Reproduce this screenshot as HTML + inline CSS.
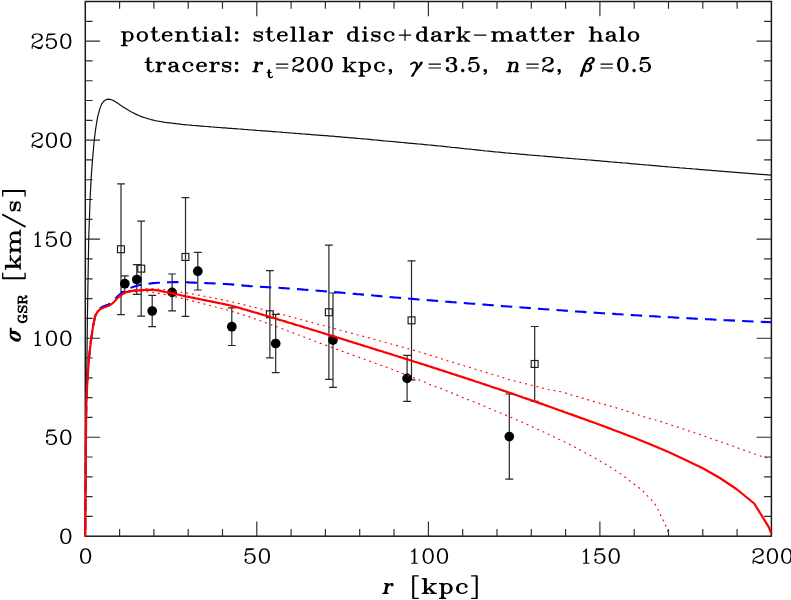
<!DOCTYPE html>
<html><head><meta charset="utf-8"><title>sigma_GSR</title>
<style>
html,body{margin:0;padding:0;background:#fff;}
body{width:791px;height:600px;overflow:hidden;font-family:"Liberation Serif",serif;}
svg{display:block;}
.hb{fill:none;stroke:#000;stroke-linecap:round;stroke-linejoin:round;}
</style></head><body>
<svg width="791" height="600" viewBox="0 0 791 600">
<rect width="791" height="600" fill="#fff"/>
<g stroke="#1a1a1a" fill="none"><rect x="85.3" y="1.5" width="686.1" height="534.7" stroke-width="1.5"/><path d="M119.6 536.2v-7.3M119.6 1.5v7.3M153.9 536.2v-7.3M153.9 1.5v7.3M188.2 536.2v-7.3M188.2 1.5v7.3M222.5 536.2v-7.3M222.5 1.5v7.3M256.8 536.2v-14.8M256.8 1.5v14.8M291.1 536.2v-7.3M291.1 1.5v7.3M325.4 536.2v-7.3M325.4 1.5v7.3M359.7 536.2v-7.3M359.7 1.5v7.3M394.0 536.2v-7.3M394.0 1.5v7.3M428.4 536.2v-14.8M428.4 1.5v14.8M462.7 536.2v-7.3M462.7 1.5v7.3M497.0 536.2v-7.3M497.0 1.5v7.3M531.3 536.2v-7.3M531.3 1.5v7.3M565.6 536.2v-7.3M565.6 1.5v7.3M599.9 536.2v-14.8M599.9 1.5v14.8M634.2 536.2v-7.3M634.2 1.5v7.3M668.5 536.2v-7.3M668.5 1.5v7.3M702.8 536.2v-7.3M702.8 1.5v7.3M737.1 536.2v-7.3M737.1 1.5v7.3M85.3 516.4h7.3M771.4 516.4h-7.3M85.3 496.6h7.3M771.4 496.6h-7.3M85.3 476.8h7.3M771.4 476.8h-7.3M85.3 457.0h7.3M771.4 457.0h-7.3M85.3 437.2h14.8M771.4 437.2h-14.8M85.3 417.4h7.3M771.4 417.4h-7.3M85.3 397.6h7.3M771.4 397.6h-7.3M85.3 377.8h7.3M771.4 377.8h-7.3M85.3 358.0h7.3M771.4 358.0h-7.3M85.3 338.2h14.8M771.4 338.2h-14.8M85.3 318.4h7.3M771.4 318.4h-7.3M85.3 298.6h7.3M771.4 298.6h-7.3M85.3 278.8h7.3M771.4 278.8h-7.3M85.3 258.9h7.3M771.4 258.9h-7.3M85.3 239.1h14.8M771.4 239.1h-14.8M85.3 219.3h7.3M771.4 219.3h-7.3M85.3 199.5h7.3M771.4 199.5h-7.3M85.3 179.7h7.3M771.4 179.7h-7.3M85.3 159.9h7.3M771.4 159.9h-7.3M85.3 140.1h14.8M771.4 140.1h-14.8M85.3 120.3h7.3M771.4 120.3h-7.3M85.3 100.5h7.3M771.4 100.5h-7.3M85.3 80.7h7.3M771.4 80.7h-7.3M85.3 60.9h7.3M771.4 60.9h-7.3M85.3 41.1h14.8M771.4 41.1h-14.8M85.3 21.3h7.3M771.4 21.3h-7.3" stroke-width="1.15" stroke="#2a2a2a"/></g>
<path d="M121.0 183.9V314.6 M117.1 183.9h7.8 M117.1 314.6h7.8 M141.2 221.1V316.2 M137.3 221.1h7.8 M137.3 316.2h7.8 M185.5 197.6V316.4 M181.6 197.6h7.8 M181.6 316.4h7.8 M269.9 270.6V357.8 M266.0 270.6h7.8 M266.0 357.8h7.8 M328.9 245.1V379.4 M325.0 245.1h7.8 M325.0 379.4h7.8 M411.5 260.9V379.8 M407.6 260.9h7.8 M407.6 379.8h7.8 M534.7 326.5V401.3 M530.8 326.5h7.8 M530.8 401.3h7.8 M124.8 275.8V291.6 M120.9 275.8h7.8 M120.9 291.6h7.8 M136.8 264.7V294.4 M132.9 264.7h7.8 M132.9 294.4h7.8 M152.2 295.4V326.7 M148.3 295.4h7.8 M148.3 326.7h7.8 M172.1 274.0V310.8 M168.2 274.0h7.8 M168.2 310.8h7.8 M197.8 252.4V290.0 M193.9 252.4h7.8 M193.9 290.0h7.8 M231.8 307.9V345.5 M227.9 307.9h7.8 M227.9 345.5h7.8 M275.7 314.4V372.6 M271.8 314.4h7.8 M271.8 372.6h7.8 M333.0 293.0V387.3 M329.1 293.0h7.8 M329.1 387.3h7.8 M407.1 355.4V401.3 M403.2 355.4h7.8 M403.2 401.3h7.8 M509.3 394.0V479.2 M505.4 394.0h7.8 M505.4 479.2h7.8" stroke="#262626" stroke-width="1.2" fill="none"/>
<rect x="117.5" y="245.8" width="6.9" height="6.9" fill="none" stroke="#1a1a1a" stroke-width="1.15"/><rect x="137.8" y="265.2" width="6.9" height="6.9" fill="none" stroke="#1a1a1a" stroke-width="1.15"/><rect x="182.0" y="253.5" width="6.9" height="6.9" fill="none" stroke="#1a1a1a" stroke-width="1.15"/><rect x="266.4" y="310.8" width="6.9" height="6.9" fill="none" stroke="#1a1a1a" stroke-width="1.15"/><rect x="325.4" y="308.8" width="6.9" height="6.9" fill="none" stroke="#1a1a1a" stroke-width="1.15"/><rect x="408.1" y="316.9" width="6.9" height="6.9" fill="none" stroke="#1a1a1a" stroke-width="1.15"/><rect x="531.2" y="360.5" width="6.9" height="6.9" fill="none" stroke="#1a1a1a" stroke-width="1.15"/><circle cx="124.8" cy="283.7" r="4.85" fill="#000"/><circle cx="136.8" cy="279.5" r="4.85" fill="#000"/><circle cx="152.2" cy="311.0" r="4.85" fill="#000"/><circle cx="172.1" cy="292.4" r="4.85" fill="#000"/><circle cx="197.8" cy="271.2" r="4.85" fill="#000"/><circle cx="231.8" cy="326.7" r="4.85" fill="#000"/><circle cx="275.7" cy="343.5" r="4.85" fill="#000"/><circle cx="333.0" cy="340.1" r="4.85" fill="#000"/><circle cx="407.1" cy="378.4" r="4.85" fill="#000"/><circle cx="509.3" cy="436.6" r="4.85" fill="#000"/>
<g fill="none" stroke-linejoin="round"><path d="M85.3 536.2 L86.3 417.4 L87.4 318.4 L88.7 239.1 L90.1 199.1 L91.1 178.9 L92.5 159.9 L94.2 140.7 L95.6 129.1 L97.6 117.1 L99.7 109.1 L101.8 103.9 L103.8 101.2 L105.9 99.8 L107.9 99.1 L110.0 99.4 L112.1 100.0 L114.1 100.9 L116.2 102.2 L118.2 103.6 L120.3 105.1 L122.3 106.4 L124.4 107.7 L126.5 109.0 L128.5 110.2 L130.6 111.4 L132.6 112.5 L134.7 113.6 L136.8 114.6 L138.8 115.5 L140.9 116.4 L142.9 117.1 L145.0 117.8 L147.0 118.4 L149.1 119.0 L151.2 119.6 L153.2 120.1 L155.3 120.6 L157.3 121.0 L159.4 121.4 L161.5 121.7 L163.5 122.1 L165.6 122.4 L167.6 122.6 L169.7 122.9 L171.7 123.2 L173.8 123.4 L175.9 123.7 L177.9 123.9 L180.0 124.1 L182.0 124.4 L184.1 124.6 L186.2 124.8 L188.2 125.0 L190.3 125.2 L192.3 125.4 L194.4 125.5 L196.4 125.7 L198.5 125.9 L200.6 126.1 L202.6 126.2 L204.7 126.4 L206.7 126.5 L208.8 126.7 L210.9 126.9 L212.9 127.0 L215.0 127.2 L217.0 127.3 L219.1 127.5 L221.1 127.6 L223.2 127.8 L225.3 127.9 L227.3 128.1 L229.4 128.3 L231.4 128.4 L233.5 128.6 L235.6 128.7 L237.6 128.9 L239.7 129.0 L241.7 129.2 L243.8 129.4 L245.8 129.5 L247.9 129.7 L250.0 129.8 L252.0 130.0 L254.1 130.1 L256.1 130.3 L258.2 130.5 L260.3 130.6 L262.3 130.8 L264.4 130.9 L266.4 131.1 L268.5 131.2 L270.5 131.4 L272.6 131.6 L274.7 131.7 L276.7 131.9 L278.8 132.0 L280.8 132.2 L282.9 132.4 L285.0 132.5 L287.0 132.7 L289.1 132.8 L291.1 133.0 L293.2 133.2 L295.2 133.3 L297.3 133.5 L299.4 133.6 L301.4 133.8 L303.5 134.0 L305.5 134.1 L307.6 134.3 L309.7 134.4 L311.7 134.6 L313.8 134.8 L315.8 134.9 L317.9 135.1 L319.9 135.3 L322.0 135.4 L324.1 135.6 L326.1 135.7 L328.2 135.9 L330.2 136.1 L332.3 136.2 L334.4 136.4 L336.4 136.6 L338.5 136.7 L340.5 136.9 L342.6 137.1 L344.6 137.3 L346.7 137.4 L348.8 137.6 L350.8 137.8 L352.9 137.9 L354.9 138.1 L357.0 138.3 L359.1 138.5 L361.1 138.7 L363.2 138.8 L365.2 139.0 L367.3 139.2 L369.3 139.4 L371.4 139.6 L373.5 139.8 L375.5 140.0 L377.6 140.2 L379.6 140.4 L381.7 140.6 L383.8 140.8 L385.8 141.0 L387.9 141.2 L389.9 141.3 L392.0 141.5 L394.0 141.7 L396.1 141.9 L398.2 142.1 L400.2 142.3 L402.3 142.5 L404.3 142.7 L406.4 142.9 L408.5 143.1 L410.5 143.3 L412.6 143.4 L414.6 143.6 L416.7 143.8 L418.7 144.0 L420.8 144.2 L422.9 144.4 L424.9 144.6 L427.0 144.8 L429.0 145.0 L431.1 145.2 L433.2 145.4 L435.2 145.6 L437.3 145.8 L439.3 146.0 L441.4 146.2 L443.4 146.4 L445.5 146.6 L447.6 146.8 L449.6 147.0 L451.7 147.3 L453.7 147.5 L455.8 147.7 L457.9 147.9 L459.9 148.1 L462.0 148.3 L464.0 148.6 L466.1 148.8 L468.1 149.0 L470.2 149.2 L472.3 149.5 L474.3 149.7 L476.4 149.9 L478.4 150.1 L480.5 150.3 L482.6 150.5 L484.6 150.8 L486.7 151.0 L488.7 151.2 L490.8 151.4 L492.8 151.6 L494.9 151.8 L497.0 152.0 L499.0 152.2 L501.1 152.4 L503.1 152.6 L505.2 152.8 L507.3 153.0 L509.3 153.2 L511.4 153.4 L513.4 153.5 L515.5 153.7 L517.5 153.9 L519.6 154.1 L521.7 154.3 L523.7 154.4 L525.8 154.6 L527.8 154.8 L529.9 155.0 L532.0 155.2 L534.0 155.3 L536.1 155.5 L538.1 155.7 L540.2 155.9 L542.2 156.0 L544.3 156.2 L546.4 156.4 L548.4 156.6 L550.5 156.7 L552.5 156.9 L554.6 157.1 L556.7 157.3 L558.7 157.4 L560.8 157.6 L562.8 157.8 L564.9 158.0 L566.9 158.1 L569.0 158.3 L571.1 158.5 L573.1 158.7 L575.2 158.8 L577.2 159.0 L579.3 159.2 L581.4 159.3 L583.4 159.5 L585.5 159.7 L587.5 159.9 L589.6 160.0 L591.6 160.2 L593.7 160.4 L595.8 160.6 L597.8 160.7 L599.9 160.9 L601.9 161.1 L604.0 161.3 L606.0 161.4 L608.1 161.6 L610.2 161.8 L612.2 162.0 L614.3 162.1 L616.3 162.3 L618.4 162.5 L620.5 162.7 L622.5 162.9 L624.6 163.0 L626.6 163.2 L628.7 163.4 L630.7 163.6 L632.8 163.8 L634.9 163.9 L636.9 164.1 L639.0 164.3 L641.0 164.5 L643.1 164.7 L645.2 164.8 L647.2 165.0 L649.3 165.2 L651.3 165.4 L653.4 165.6 L655.4 165.7 L657.5 165.9 L659.6 166.1 L661.6 166.3 L663.7 166.5 L665.7 166.6 L667.8 166.8 L669.9 167.0 L671.9 167.2 L674.0 167.3 L676.0 167.5 L678.1 167.7 L680.1 167.9 L682.2 168.0 L684.3 168.2 L686.3 168.4 L688.4 168.5 L690.4 168.7 L692.5 168.9 L694.6 169.0 L696.6 169.2 L698.7 169.4 L700.7 169.6 L702.8 169.7 L704.8 169.9 L706.9 170.1 L709.0 170.2 L711.0 170.4 L713.1 170.6 L715.1 170.7 L717.2 170.9 L719.3 171.1 L721.3 171.2 L723.4 171.4 L725.4 171.6 L727.5 171.7 L729.5 171.9 L771.4 175.2" stroke="#111" stroke-width="1.2"/><path d="M85.3 536.2 L85.6 476.8 L86.1 417.8 L86.5 398.4 L87.6 376.6 L89.1 357.2 L90.8 341.9 L93.0 326.7 L95.0 316.8 L95.6 315.0 L97.6 310.7 L99.7 308.5 L101.8 307.2 L103.8 306.3 L105.9 305.5 L107.9 304.7 L110.0 303.8 L112.1 302.2 L114.1 300.0 L116.2 297.7 L118.2 295.8 L120.3 294.0 L122.3 292.5 L124.4 291.1 L126.5 290.0 L128.5 288.9 L130.6 287.9 L132.6 287.1 L134.7 286.4 L136.8 285.8 L138.8 285.3 L140.9 284.8 L142.9 284.5 L145.0 284.1 L147.0 283.9 L149.1 283.6 L151.2 283.4 L153.2 283.1 L155.3 283.0 L157.3 282.8 L159.4 282.7 L161.5 282.6 L163.5 282.5 L165.6 282.4 L167.6 282.3 L169.7 282.2 L171.7 282.2 L173.8 282.1 L175.9 282.1 L177.9 282.1 L180.0 282.2 L182.0 282.2 L184.1 282.3 L186.2 282.3 L188.2 282.4 L190.3 282.5 L192.3 282.6 L194.4 282.6 L196.4 282.7 L198.5 282.8 L200.6 282.9 L202.6 282.9 L204.7 283.0 L206.7 283.1 L208.8 283.2 L210.9 283.3 L212.9 283.4 L215.0 283.5 L217.0 283.6 L219.1 283.7 L221.1 283.8 L223.2 283.9 L225.3 284.0 L227.3 284.1 L229.4 284.3 L231.4 284.4 L233.5 284.6 L235.6 284.8 L237.6 285.0 L239.7 285.2 L241.7 285.4 L243.8 285.6 L245.8 285.8 L247.9 285.9 L250.0 286.1 L252.0 286.2 L254.1 286.4 L256.1 286.5 L258.2 286.6 L260.3 286.7 L262.3 286.9 L264.4 287.0 L266.4 287.1 L268.5 287.2 L270.5 287.4 L272.6 287.5 L274.7 287.6 L276.7 287.7 L278.8 287.8 L280.8 288.0 L282.9 288.1 L285.0 288.2 L287.0 288.4 L289.1 288.5 L291.1 288.7 L293.2 288.8 L295.2 289.0 L297.3 289.1 L299.4 289.3 L301.4 289.4 L303.5 289.6 L305.5 289.7 L307.6 289.9 L309.7 290.0 L311.7 290.2 L313.8 290.4 L315.8 290.5 L317.9 290.7 L319.9 290.9 L322.0 291.0 L324.1 291.2 L326.1 291.4 L328.2 291.6 L330.2 291.7 L332.3 291.9 L334.4 292.1 L336.4 292.3 L338.5 292.4 L340.5 292.6 L342.6 292.8 L344.6 293.0 L346.7 293.2 L348.8 293.3 L350.8 293.5 L352.9 293.7 L354.9 293.9 L357.0 294.1 L359.1 294.2 L361.1 294.4 L363.2 294.6 L365.2 294.8 L367.3 295.0 L369.3 295.2 L371.4 295.3 L373.5 295.5 L375.5 295.7 L377.6 295.9 L379.6 296.1 L381.7 296.3 L383.8 296.4 L385.8 296.6 L387.9 296.8 L389.9 297.0 L392.0 297.2 L394.0 297.4 L396.1 297.5 L398.2 297.7 L400.2 297.9 L402.3 298.1 L404.3 298.2 L406.4 298.4 L408.5 298.6 L410.5 298.8 L412.6 298.9 L414.6 299.1 L416.7 299.3 L418.7 299.5 L420.8 299.6 L422.9 299.8 L424.9 300.0 L427.0 300.1 L429.0 300.3 L431.1 300.4 L433.2 300.6 L435.2 300.8 L437.3 300.9 L439.3 301.1 L441.4 301.3 L443.4 301.4 L445.5 301.6 L447.6 301.7 L449.6 301.9 L451.7 302.1 L453.7 302.2 L455.8 302.4 L457.9 302.5 L459.9 302.7 L462.0 302.9 L464.0 303.0 L466.1 303.2 L468.1 303.4 L470.2 303.5 L472.3 303.7 L474.3 303.8 L476.4 304.0 L478.4 304.2 L480.5 304.3 L482.6 304.5 L484.6 304.6 L486.7 304.8 L488.7 305.0 L490.8 305.1 L492.8 305.3 L494.9 305.4 L497.0 305.6 L499.0 305.8 L501.1 305.9 L503.1 306.1 L505.2 306.2 L507.3 306.4 L509.3 306.5 L511.4 306.7 L513.4 306.9 L515.5 307.0 L517.5 307.2 L519.6 307.3 L521.7 307.5 L523.7 307.6 L525.8 307.8 L527.8 307.9 L529.9 308.1 L532.0 308.2 L534.0 308.4 L536.1 308.5 L538.1 308.7 L540.2 308.9 L542.2 309.0 L544.3 309.2 L546.4 309.3 L548.4 309.5 L550.5 309.6 L552.5 309.8 L554.6 309.9 L556.7 310.0 L558.7 310.2 L560.8 310.3 L562.8 310.5 L564.9 310.6 L566.9 310.8 L569.0 310.9 L571.1 311.1 L573.1 311.2 L575.2 311.4 L577.2 311.5 L579.3 311.6 L581.4 311.8 L583.4 311.9 L585.5 312.1 L587.5 312.2 L589.6 312.3 L591.6 312.5 L593.7 312.6 L595.8 312.7 L597.8 312.9 L599.9 313.0 L601.9 313.2 L604.0 313.3 L606.0 313.4 L608.1 313.6 L610.2 313.7 L612.2 313.8 L614.3 313.9 L616.3 314.1 L618.4 314.2 L620.5 314.3 L622.5 314.5 L624.6 314.6 L626.6 314.7 L628.7 314.8 L630.7 315.0 L632.8 315.1 L634.9 315.2 L636.9 315.3 L639.0 315.5 L641.0 315.6 L643.1 315.7 L645.2 315.8 L647.2 315.9 L649.3 316.1 L651.3 316.2 L653.4 316.3 L655.4 316.4 L657.5 316.5 L659.6 316.7 L661.6 316.8 L663.7 316.9 L665.7 317.0 L667.8 317.1 L669.9 317.2 L671.9 317.3 L674.0 317.5 L676.0 317.6 L678.1 317.7 L680.1 317.8 L682.2 317.9 L684.3 318.0 L686.3 318.1 L688.4 318.3 L690.4 318.4 L692.5 318.5 L694.6 318.6 L696.6 318.7 L698.7 318.8 L700.7 318.9 L702.8 319.0 L704.8 319.1 L706.9 319.2 L709.0 319.3 L711.0 319.4 L713.1 319.5 L715.1 319.7 L717.2 319.8 L719.3 319.9 L721.3 320.0 L723.4 320.1 L725.4 320.2 L727.5 320.3 L729.5 320.4 L771.4 322.3" stroke="#0000ff" stroke-width="2.1" stroke-dasharray="11.45 7.15" stroke-dashoffset="11.89"/><path d="M85.3 536.2 L85.6 476.8 L86.1 417.8 L86.5 398.4 L87.6 376.6 L89.1 357.2 L90.8 341.9 L93.0 326.7 L95.0 316.8 L95.6 315.2 L97.6 311.6 L99.7 309.6 L101.8 308.4 L103.8 307.5 L105.9 306.7 L107.9 306.0 L110.0 305.2 L112.1 303.7 L114.1 301.7 L116.2 299.5 L118.2 297.6 L120.3 295.8 L122.3 293.9 L124.4 292.6 L126.5 291.7 L128.5 291.0 L130.6 290.4 L132.6 290.1 L134.7 289.8 L136.8 289.6 L138.8 289.4 L140.9 289.2 L142.9 289.1 L145.0 288.9 L147.0 288.8 L149.1 288.7 L151.2 288.7 L153.2 288.7 L155.3 288.8 L157.3 289.0 L159.4 289.3 L161.5 289.6 L163.5 289.8 L165.6 290.0 L167.6 290.3 L169.7 290.5 L171.7 290.8 L173.8 291.1 L175.9 291.4 L177.9 291.7 L180.0 292.0 L182.0 292.3 L184.1 292.6 L186.2 293.0 L188.2 293.3 L190.3 293.7 L192.3 294.0 L194.4 294.4 L196.4 294.8 L198.5 295.1 L200.6 295.5 L202.6 295.9 L204.7 296.3 L206.7 296.7 L208.8 297.1 L210.9 297.5 L212.9 297.9 L215.0 298.3 L217.0 298.7 L219.1 299.2 L221.1 299.6 L223.2 300.0 L225.3 300.5 L227.3 300.9 L229.4 301.4 L231.4 301.8 L233.5 302.3 L235.6 302.8 L237.6 303.3 L239.7 303.7 L241.7 304.2 L243.8 304.7 L245.8 305.2 L247.9 305.7 L250.0 306.2 L252.0 306.7 L254.1 307.2 L256.1 307.7 L258.2 308.3 L260.3 308.8 L262.3 309.3 L264.4 309.8 L266.4 310.4 L268.5 310.9 L270.5 311.4 L272.6 312.0 L274.7 312.5 L276.7 313.1 L278.8 313.6 L280.8 314.2 L282.9 314.7 L285.0 315.3 L287.0 315.8 L289.1 316.4 L291.1 316.9 L293.2 317.5 L295.2 318.0 L297.3 318.6 L299.4 319.1 L301.4 319.7 L303.5 320.3 L305.5 320.8 L307.6 321.4 L309.7 321.9 L311.7 322.5 L313.8 323.1 L315.8 323.6 L317.9 324.2 L319.9 324.7 L322.0 325.3 L324.1 325.8 L326.1 326.4 L328.2 327.0 L330.2 327.5 L332.3 328.1 L334.4 328.6 L336.4 329.2 L338.5 329.7 L340.5 330.3 L342.6 330.8 L344.6 331.4 L346.7 331.9 L348.8 332.5 L350.8 333.0 L352.9 333.6 L354.9 334.1 L357.0 334.7 L359.1 335.2 L361.1 335.8 L363.2 336.3 L365.2 336.9 L367.3 337.4 L369.3 338.0 L371.4 338.5 L373.5 339.1 L375.5 339.7 L377.6 340.2 L379.6 340.8 L381.7 341.3 L383.8 341.9 L385.8 342.5 L387.9 343.0 L389.9 343.6 L392.0 344.2 L394.0 344.7 L396.1 345.3 L398.2 345.9 L400.2 346.5 L402.3 347.0 L404.3 347.6 L406.4 348.2 L408.5 348.8 L410.5 349.4 L412.6 350.0 L414.6 350.6 L416.7 351.2 L418.7 351.8 L420.8 352.4 L422.9 353.0 L424.9 353.6 L427.0 354.2 L429.0 354.8 L431.1 355.5 L433.2 356.1 L435.2 356.8 L437.3 357.4 L439.3 358.1 L441.4 358.7 L443.4 359.4 L445.5 360.0 L447.6 360.7 L449.6 361.3 L451.7 361.9 L453.7 362.6 L455.8 363.2 L457.9 363.9 L459.9 364.5 L462.0 365.1 L464.0 365.8 L466.1 366.4 L468.1 367.0 L470.2 367.6 L472.3 368.3 L474.3 368.9 L476.4 369.5 L478.4 370.2 L480.5 370.8 L482.6 371.4 L484.6 372.0 L486.7 372.6 L488.7 373.2 L490.8 373.8 L492.8 374.5 L494.9 375.1 L497.0 375.7 L499.0 376.3 L501.1 377.0 L503.1 377.6 L505.2 378.3 L507.3 378.9 L509.3 379.6 L511.4 380.2 L513.4 380.7 L515.5 381.3 L517.5 381.8 L519.6 382.3 L521.7 382.8 L523.7 383.3 L525.8 383.8 L527.8 384.3 L529.9 384.8 L532.0 385.3 L534.0 385.8 L536.1 386.4 L538.1 386.9 L540.2 387.5 L542.2 388.0 L544.3 388.5 L546.4 389.0 L548.4 389.5 L550.5 389.9 L552.5 390.3 L554.6 390.6 L556.7 391.0 L558.7 391.3 L560.8 391.8 L562.8 392.3 L564.9 392.9 L566.9 393.5 L569.0 394.2 L571.1 394.8 L573.1 395.4 L575.2 396.0 L577.2 396.6 L579.3 397.2 L581.4 397.8 L583.4 398.4 L585.5 399.0 L587.5 399.6 L589.6 400.2 L591.6 400.8 L593.7 401.4 L595.8 402.0 L597.8 402.6 L599.9 403.2 L601.9 403.7 L604.0 404.3 L606.0 404.9 L608.1 405.5 L610.2 406.1 L612.2 406.7 L614.3 407.3 L616.3 407.9 L618.4 408.5 L620.5 409.1 L622.5 409.8 L624.6 410.4 L626.6 411.1 L628.7 411.7 L630.7 412.4 L632.8 413.1 L634.9 413.7 L636.9 414.4 L639.0 415.1 L641.0 415.7 L643.1 416.4 L645.2 417.1 L647.2 417.7 L649.3 418.4 L651.3 419.0 L653.4 419.5 L655.4 420.0 L657.5 420.5 L659.6 421.2 L661.6 421.8 L663.7 422.5 L665.7 423.2 L667.8 423.9 L669.9 424.6 L671.9 425.3 L674.0 426.0 L676.0 426.6 L678.1 427.3 L680.1 428.0 L682.2 428.7 L684.3 429.4 L686.3 430.1 L688.4 430.7 L690.4 431.4 L692.5 432.0 L694.6 432.7 L696.6 433.4 L698.7 434.0 L700.7 434.8 L702.8 435.5 L704.8 436.2 L706.9 437.0 L709.0 437.8 L711.0 438.5 L713.1 439.2 L715.1 440.0 L717.2 440.6 L719.3 441.3 L721.3 442.0 L723.4 442.7 L725.4 443.4 L727.5 444.1 L729.5 444.8 L737.8 447.9 L749.1 452.0 L759.7 455.8 L771.4 459.4" stroke="#ff0000" stroke-width="1.15" stroke-dasharray="1.9 3.95"/><path d="M85.3 536.2 L85.6 476.8 L86.1 417.8 L86.5 398.4 L87.6 376.6 L89.1 357.2 L90.8 341.9 L93.0 326.7 L95.0 316.8 L95.6 315.2 L97.6 311.6 L99.7 309.6 L101.8 308.4 L103.8 307.5 L105.9 306.7 L107.9 306.0 L110.0 305.2 L112.1 303.7 L114.1 301.7 L116.2 299.5 L118.2 297.5 L120.3 295.9 L122.3 294.4 L124.4 293.4 L126.5 292.8 L128.5 292.3 L130.6 291.9 L132.6 291.7 L134.7 291.6 L136.8 291.5 L138.8 291.4 L140.9 291.4 L142.9 291.5 L145.0 291.6 L147.0 291.8 L149.1 292.0 L151.2 292.2 L153.2 292.5 L155.3 292.7 L157.3 293.1 L159.4 293.4 L161.5 293.8 L163.5 294.3 L165.6 294.7 L167.6 295.1 L169.7 295.5 L171.7 296.0 L173.8 296.4 L175.9 296.9 L177.9 297.4 L180.0 297.9 L182.0 298.4 L184.1 298.9 L186.2 299.4 L188.2 299.9 L190.3 300.4 L192.3 300.9 L194.4 301.5 L196.4 302.0 L198.5 302.5 L200.6 303.1 L202.6 303.6 L204.7 304.1 L206.7 304.7 L208.8 305.2 L210.9 305.7 L212.9 306.2 L215.0 306.8 L217.0 307.3 L219.1 307.8 L221.1 308.4 L223.2 308.9 L225.3 309.5 L227.3 310.0 L229.4 310.6 L231.4 311.2 L233.5 311.9 L235.6 312.5 L237.6 313.1 L239.7 313.8 L241.7 314.4 L243.8 315.1 L245.8 315.8 L247.9 316.5 L250.0 317.1 L252.0 317.8 L254.1 318.5 L256.1 319.3 L258.2 320.0 L260.3 320.7 L262.3 321.4 L264.4 322.2 L266.4 322.9 L268.5 323.7 L270.5 324.4 L272.6 325.2 L274.7 325.9 L276.7 326.7 L278.8 327.4 L280.8 328.2 L282.9 329.0 L285.0 329.8 L287.0 330.5 L289.1 331.3 L291.1 332.1 L293.2 332.9 L295.2 333.7 L297.3 334.5 L299.4 335.2 L301.4 336.0 L303.5 336.8 L305.5 337.6 L307.6 338.4 L309.7 339.2 L311.7 340.0 L313.8 340.7 L315.8 341.5 L317.9 342.3 L319.9 343.1 L322.0 343.9 L324.1 344.6 L326.1 345.4 L328.2 346.2 L330.2 346.9 L332.3 347.7 L334.4 348.4 L336.4 349.2 L338.5 349.9 L340.5 350.7 L342.6 351.4 L344.6 352.2 L346.7 352.9 L348.8 353.6 L350.8 354.4 L352.9 355.1 L354.9 355.9 L357.0 356.6 L359.1 357.3 L361.1 358.1 L363.2 358.8 L365.2 359.5 L367.3 360.3 L369.3 361.0 L371.4 361.8 L373.5 362.5 L375.5 363.3 L377.6 364.0 L379.6 364.8 L381.7 365.5 L383.8 366.3 L385.8 367.0 L387.9 367.8 L389.9 368.6 L392.0 369.3 L394.0 370.1 L396.1 370.9 L398.2 371.7 L400.2 372.4 L402.3 373.2 L404.3 374.0 L406.4 374.8 L408.5 375.6 L410.5 376.4 L412.6 377.2 L414.6 378.1 L416.7 378.9 L418.7 379.7 L420.8 380.5 L422.9 381.4 L424.9 382.3 L427.0 383.2 L429.0 384.1 L431.1 385.0 L433.2 385.8 L435.2 386.6 L437.3 387.3 L439.3 388.1 L441.4 388.8 L443.4 389.6 L445.5 390.4 L447.6 391.2 L449.6 392.0 L451.7 392.9 L453.7 393.7 L455.8 394.6 L457.9 395.4 L459.9 396.3 L462.0 397.2 L464.0 398.0 L466.1 398.8 L468.1 399.6 L470.2 400.4 L472.3 401.2 L474.3 402.0 L476.4 402.8 L478.4 403.6 L480.5 404.5 L482.6 405.4 L484.6 406.3 L486.7 407.2 L488.7 408.1 L490.8 409.0 L492.8 409.8 L494.9 410.7 L497.0 411.5 L499.0 412.4 L501.1 413.2 L503.1 414.1 L505.2 414.9 L507.3 415.8 L509.3 416.6 L511.4 417.5 L513.4 418.4 L515.5 419.3 L517.5 420.2 L519.6 421.1 L521.7 422.0 L523.7 423.0 L525.8 423.9 L527.8 424.8 L529.9 425.7 L532.0 426.6 L534.0 427.6 L536.1 428.5 L538.1 429.4 L540.2 430.3 L542.2 431.3 L544.3 432.3 L546.4 433.3 L548.4 434.3 L550.5 435.3 L552.5 436.3 L554.6 437.3 L556.7 438.2 L558.7 439.2 L560.8 440.1 L562.8 441.1 L564.9 442.1 L566.9 443.1 L569.0 444.1 L571.1 445.2 L573.1 446.2 L575.2 447.3 L577.2 448.4 L579.3 449.5 L581.4 450.7 L583.4 451.9 L585.5 453.0 L587.5 454.1 L589.6 455.2 L591.6 456.3 L593.7 457.4 L595.8 458.6 L597.8 459.7 L599.9 460.9 L601.9 462.1 L604.0 463.3 L606.0 464.5 L608.1 465.8 L610.2 467.0 L612.2 468.3 L614.3 469.7 L616.3 471.0 L618.4 472.4 L620.5 473.8 L622.5 475.3 L624.6 476.8 L626.6 478.3 L628.7 479.9 L630.7 481.5 L632.8 483.2 L634.9 484.8 L636.9 486.3 L639.0 487.8 L641.0 489.4 L643.1 491.2 L645.2 493.2 L647.2 495.6 L649.3 497.9 L651.3 499.8 L653.4 501.9 L655.4 504.8 L657.5 508.5 L659.6 513.1 L661.6 517.1 L663.7 521.4 L665.7 525.7 L667.8 531.2 L668.5 534.0 L668.8 536.2" stroke="#ff0000" stroke-width="1.15" stroke-dasharray="1.9 3.95"/><path d="M85.3 536.2 L85.6 476.8 L86.1 417.8 L86.5 398.4 L87.6 376.6 L89.1 357.2 L90.8 341.9 L93.0 326.7 L95.0 316.8 L95.6 315.2 L97.6 311.6 L99.7 309.6 L101.8 308.4 L103.8 307.5 L105.9 306.7 L107.9 306.0 L110.0 305.2 L112.1 303.7 L114.1 301.7 L116.2 299.5 L118.2 297.5 L120.3 295.8 L122.3 294.2 L124.4 293.0 L126.5 292.1 L128.5 291.6 L130.6 291.2 L132.6 290.9 L134.7 290.7 L136.8 290.5 L138.8 290.3 L140.9 290.2 L142.9 290.1 L145.0 290.0 L147.0 289.9 L149.1 289.9 L151.2 289.8 L153.2 289.9 L155.3 290.1 L157.3 290.3 L159.4 290.7 L161.5 291.1 L163.5 291.6 L165.6 292.0 L167.6 292.3 L169.7 292.7 L171.7 293.2 L173.8 293.6 L175.9 294.1 L177.9 294.5 L180.0 295.0 L182.0 295.5 L184.1 295.9 L186.2 296.4 L188.2 296.8 L190.3 297.2 L192.3 297.7 L194.4 298.1 L196.4 298.5 L198.5 298.9 L200.6 299.3 L202.6 299.8 L204.7 300.2 L206.7 300.6 L208.8 301.0 L210.9 301.4 L212.9 301.8 L215.0 302.2 L217.0 302.7 L219.1 303.1 L221.1 303.5 L223.2 303.9 L225.3 304.4 L227.3 304.8 L229.4 305.3 L231.4 305.8 L233.5 306.3 L235.6 306.9 L237.6 307.4 L239.7 308.0 L241.7 308.6 L243.8 309.2 L245.8 309.8 L247.9 310.4 L250.0 311.0 L252.0 311.6 L254.1 312.2 L256.1 312.8 L258.2 313.4 L260.3 314.0 L262.3 314.6 L264.4 315.2 L266.4 315.8 L268.5 316.5 L270.5 317.1 L272.6 317.7 L274.7 318.3 L276.7 318.9 L278.8 319.6 L280.8 320.2 L282.9 320.8 L285.0 321.4 L287.0 322.1 L289.1 322.7 L291.1 323.3 L293.2 323.9 L295.2 324.6 L297.3 325.2 L299.4 325.8 L301.4 326.4 L303.5 327.1 L305.5 327.7 L307.6 328.3 L309.7 329.0 L311.7 329.6 L313.8 330.2 L315.8 330.8 L317.9 331.5 L319.9 332.1 L322.0 332.7 L324.1 333.4 L326.1 334.0 L328.2 334.7 L330.2 335.3 L332.3 335.9 L334.4 336.6 L336.4 337.2 L338.5 337.9 L340.5 338.5 L342.6 339.1 L344.6 339.8 L346.7 340.4 L348.8 341.1 L350.8 341.7 L352.9 342.4 L354.9 343.0 L357.0 343.6 L359.1 344.3 L361.1 344.9 L363.2 345.6 L365.2 346.2 L367.3 346.8 L369.3 347.5 L371.4 348.1 L373.5 348.8 L375.5 349.4 L377.6 350.1 L379.6 350.7 L381.7 351.3 L383.8 352.0 L385.8 352.6 L387.9 353.3 L389.9 353.9 L392.0 354.5 L394.0 355.2 L396.1 355.8 L398.2 356.5 L400.2 357.1 L402.3 357.8 L404.3 358.4 L406.4 359.1 L408.5 359.7 L410.5 360.4 L412.6 361.0 L414.6 361.7 L416.7 362.3 L418.7 363.0 L420.8 363.6 L422.9 364.3 L424.9 364.9 L427.0 365.6 L429.0 366.3 L431.1 366.9 L433.2 367.6 L435.2 368.2 L437.3 368.9 L439.3 369.6 L441.4 370.2 L443.4 370.9 L445.5 371.6 L447.6 372.2 L449.6 372.9 L451.7 373.6 L453.7 374.2 L455.8 374.9 L457.9 375.6 L459.9 376.2 L462.0 376.9 L464.0 377.6 L466.1 378.3 L468.1 378.9 L470.2 379.6 L472.3 380.3 L474.3 381.0 L476.4 381.7 L478.4 382.3 L480.5 383.0 L482.6 383.7 L484.6 384.4 L486.7 385.1 L488.7 385.8 L490.8 386.5 L492.8 387.2 L494.9 387.9 L497.0 388.5 L499.0 389.2 L501.1 389.9 L503.1 390.6 L505.2 391.3 L507.3 392.0 L509.3 392.7 L511.4 393.4 L513.4 394.1 L515.5 394.8 L517.5 395.5 L519.6 396.2 L521.7 396.9 L523.7 397.7 L525.8 398.4 L527.8 399.1 L529.9 399.8 L532.0 400.5 L534.0 401.2 L536.1 401.9 L538.1 402.7 L540.2 403.4 L542.2 404.1 L544.3 404.8 L546.4 405.6 L548.4 406.3 L550.5 407.0 L552.5 407.7 L554.6 408.5 L556.7 409.2 L558.7 410.0 L560.8 410.7 L562.8 411.4 L564.9 412.2 L566.9 412.9 L569.0 413.7 L571.1 414.4 L573.1 415.1 L575.2 415.9 L577.2 416.6 L579.3 417.4 L581.4 418.1 L583.4 418.8 L585.5 419.6 L587.5 420.3 L589.6 421.1 L591.6 421.8 L593.7 422.5 L595.8 423.3 L597.8 424.0 L599.9 424.8 L601.9 425.6 L604.0 426.3 L606.0 427.1 L608.1 427.9 L610.2 428.6 L612.2 429.4 L614.3 430.2 L616.3 431.0 L618.4 431.8 L620.5 432.5 L622.5 433.3 L624.6 434.1 L626.6 434.9 L634.2 437.8 L651.3 444.7 L668.5 452.0 L685.6 460.0 L702.8 468.3 L719.9 478.0 L737.1 489.5 L754.2 503.5 L768.8 527.1 L771.4 533.8" stroke="#ff0000" stroke-width="2.2"/></g>
<path class="hb" stroke-width="1.15" stroke="#111" d="M65.1 529.1L62.9 529.8L61.5 531.8L60.8 535.2L60.8 537.3L61.5 540.7L62.9 542.7L65.1 543.4L66.5 543.4L68.7 542.7L70.1 540.7L70.8 537.3L70.8 535.2L70.1 531.8L68.7 529.8L66.5 529.1L65.1 529.1M65.1 529.1L63.7 529.8L62.9 530.5L62.2 531.8L61.5 535.2L61.5 537.3L62.2 540.7L62.9 542.0L63.7 542.7L65.1 543.4M66.5 543.4L68.0 542.7L68.7 542.0L69.4 540.7L70.1 537.3L70.1 535.2L69.4 531.8L68.7 530.5L68.0 529.8L66.5 529.1M47.9 430.1L46.5 436.9M46.5 436.9L47.9 435.5L50.1 434.8L52.2 434.8L54.4 435.5L55.8 436.9L56.5 438.9L56.5 440.3L55.8 442.3L54.4 443.7L52.2 444.4L50.1 444.4L47.9 443.7L47.2 443.0L46.5 441.6L46.5 441.0L47.2 440.3L47.9 441.0L47.2 441.6M52.2 434.8L53.6 435.5L55.1 436.9L55.8 438.9L55.8 440.3L55.1 442.3L53.6 443.7L52.2 444.4M47.9 430.1L55.1 430.1M47.9 430.8L51.5 430.8L55.1 430.1M65.1 430.1L62.9 430.8L61.5 432.8L60.8 436.2L60.8 438.2L61.5 441.6L62.9 443.7L65.1 444.4L66.5 444.4L68.7 443.7L70.1 441.6L70.8 438.2L70.8 436.2L70.1 432.8L68.7 430.8L66.5 430.1L65.1 430.1M65.1 430.1L63.7 430.8L62.9 431.4L62.2 432.8L61.5 436.2L61.5 438.2L62.2 441.6L62.9 443.0L63.7 443.7L65.1 444.4M66.5 444.4L68.0 443.7L68.7 443.0L69.4 441.6L70.1 438.2L70.1 436.2L69.4 432.8L68.7 431.4L68.0 430.8L66.5 430.1M35.1 333.8L36.3 333.1L38.1 331.1L38.1 345.3M37.5 331.7L37.5 345.3M35.1 345.3L40.5 345.3M50.8 331.1L48.6 331.7L47.2 333.8L46.5 337.2L46.5 339.2L47.2 342.6L48.6 344.7L50.8 345.3L52.2 345.3L54.4 344.7L55.8 342.6L56.5 339.2L56.5 337.2L55.8 333.8L54.4 331.7L52.2 331.1L50.8 331.1M50.8 331.1L49.3 331.7L48.6 332.4L47.9 333.8L47.2 337.2L47.2 339.2L47.9 342.6L48.6 344.0L49.3 344.7L50.8 345.3M52.2 345.3L53.6 344.7L54.4 344.0L55.1 342.6L55.8 339.2L55.8 337.2L55.1 333.8L54.4 332.4L53.6 331.7L52.2 331.1M65.1 331.1L62.9 331.7L61.5 333.8L60.8 337.2L60.8 339.2L61.5 342.6L62.9 344.7L65.1 345.3L66.5 345.3L68.7 344.7L70.1 342.6L70.8 339.2L70.8 337.2L70.1 333.8L68.7 331.7L66.5 331.1L65.1 331.1M65.1 331.1L63.7 331.7L62.9 332.4L62.2 333.8L61.5 337.2L61.5 339.2L62.2 342.6L62.9 344.0L63.7 344.7L65.1 345.3M66.5 345.3L68.0 344.7L68.7 344.0L69.4 342.6L70.1 339.2L70.1 337.2L69.4 333.8L68.7 332.4L68.0 331.7L66.5 331.1M35.1 234.8L36.3 234.1L38.1 232.0L38.1 246.3M37.5 232.7L37.5 246.3M35.1 246.3L40.5 246.3M47.9 232.0L46.5 238.8M46.5 238.8L47.9 237.5L50.1 236.8L52.2 236.8L54.4 237.5L55.8 238.8L56.5 240.9L56.5 242.2L55.8 244.3L54.4 245.6L52.2 246.3L50.1 246.3L47.9 245.6L47.2 245.0L46.5 243.6L46.5 242.9L47.2 242.2L47.9 242.9L47.2 243.6M52.2 236.8L53.6 237.5L55.1 238.8L55.8 240.9L55.8 242.2L55.1 244.3L53.6 245.6L52.2 246.3M47.9 232.0L55.1 232.0M47.9 232.7L51.5 232.7L55.1 232.0M65.1 232.0L62.9 232.7L61.5 234.8L60.8 238.2L60.8 240.2L61.5 243.6L62.9 245.6L65.1 246.3L66.5 246.3L68.7 245.6L70.1 243.6L70.8 240.2L70.8 238.2L70.1 234.8L68.7 232.7L66.5 232.0L65.1 232.0M65.1 232.0L63.7 232.7L62.9 233.4L62.2 234.8L61.5 238.2L61.5 240.2L62.2 243.6L62.9 245.0L63.7 245.6L65.1 246.3M66.5 246.3L68.0 245.6L68.7 245.0L69.4 243.6L70.1 240.2L70.1 238.2L69.4 234.8L68.7 233.4L68.0 232.7L66.5 232.0M32.9 135.7L33.6 136.4L32.9 137.1L32.2 136.4L32.2 135.7L32.9 134.4L33.6 133.7L35.7 133.0L38.6 133.0L40.8 133.7L41.5 134.4L42.2 135.7L42.2 137.1L41.5 138.5L39.3 139.8L35.7 141.2L34.3 141.9L32.9 143.2L32.2 145.3L32.2 147.3M38.6 133.0L40.0 133.7L40.8 134.4L41.5 135.7L41.5 137.1L40.8 138.5L38.6 139.8L35.7 141.2M32.2 145.9L32.9 145.3L34.3 145.3L37.9 146.6L40.0 146.6L41.5 145.9L42.2 145.3M34.3 145.3L37.9 147.3L40.8 147.3L41.5 146.6L42.2 145.3L42.2 143.9M50.8 133.0L48.6 133.7L47.2 135.7L46.5 139.1L46.5 141.2L47.2 144.6L48.6 146.6L50.8 147.3L52.2 147.3L54.4 146.6L55.8 144.6L56.5 141.2L56.5 139.1L55.8 135.7L54.4 133.7L52.2 133.0L50.8 133.0M50.8 133.0L49.3 133.7L48.6 134.4L47.9 135.7L47.2 139.1L47.2 141.2L47.9 144.6L48.6 145.9L49.3 146.6L50.8 147.3M52.2 147.3L53.6 146.6L54.4 145.9L55.1 144.6L55.8 141.2L55.8 139.1L55.1 135.7L54.4 134.4L53.6 133.7L52.2 133.0M65.1 133.0L62.9 133.7L61.5 135.7L60.8 139.1L60.8 141.2L61.5 144.6L62.9 146.6L65.1 147.3L66.5 147.3L68.7 146.6L70.1 144.6L70.8 141.2L70.8 139.1L70.1 135.7L68.7 133.7L66.5 133.0L65.1 133.0M65.1 133.0L63.7 133.7L62.9 134.4L62.2 135.7L61.5 139.1L61.5 141.2L62.2 144.6L62.9 145.9L63.7 146.6L65.1 147.3M66.5 147.3L68.0 146.6L68.7 145.9L69.4 144.6L70.1 141.2L70.1 139.1L69.4 135.7L68.7 134.4L68.0 133.7L66.5 133.0M32.9 36.7L33.6 37.4L32.9 38.1L32.2 37.4L32.2 36.7L32.9 35.4L33.6 34.7L35.7 34.0L38.6 34.0L40.8 34.7L41.5 35.4L42.2 36.7L42.2 38.1L41.5 39.4L39.3 40.8L35.7 42.2L34.3 42.8L32.9 44.2L32.2 46.2L32.2 48.3M38.6 34.0L40.0 34.7L40.8 35.4L41.5 36.7L41.5 38.1L40.8 39.4L38.6 40.8L35.7 42.2M32.2 46.9L32.9 46.2L34.3 46.2L37.9 47.6L40.0 47.6L41.5 46.9L42.2 46.2M34.3 46.2L37.9 48.3L40.8 48.3L41.5 47.6L42.2 46.2L42.2 44.9M47.9 34.0L46.5 40.8M46.5 40.8L47.9 39.4L50.1 38.8L52.2 38.8L54.4 39.4L55.8 40.8L56.5 42.8L56.5 44.2L55.8 46.2L54.4 47.6L52.2 48.3L50.1 48.3L47.9 47.6L47.2 46.9L46.5 45.6L46.5 44.9L47.2 44.2L47.9 44.9L47.2 45.6M52.2 38.8L53.6 39.4L55.1 40.8L55.8 42.8L55.8 44.2L55.1 46.2L53.6 47.6L52.2 48.3M47.9 34.0L55.1 34.0M47.9 34.7L51.5 34.7L55.1 34.0M65.1 34.0L62.9 34.7L61.5 36.7L60.8 40.1L60.8 42.2L61.5 45.6L62.9 47.6L65.1 48.3L66.5 48.3L68.7 47.6L70.1 45.6L70.8 42.2L70.8 40.1L70.1 36.7L68.7 34.7L66.5 34.0L65.1 34.0M65.1 34.0L63.7 34.7L62.9 35.4L62.2 36.7L61.5 40.1L61.5 42.2L62.2 45.6L62.9 46.9L63.7 47.6L65.1 48.3M66.5 48.3L68.0 47.6L68.7 46.9L69.4 45.6L70.1 42.2L70.1 40.1L69.4 36.7L68.7 35.4L68.0 34.7L66.5 34.0M84.9 548.9L82.7 549.6L81.3 551.7L80.6 555.1L80.6 557.1L81.3 560.5L82.7 562.5L84.9 563.2L86.3 563.2L88.5 562.5L89.9 560.5L90.6 557.1L90.6 555.1L89.9 551.7L88.5 549.6L86.3 548.9L84.9 548.9M84.9 548.9L83.5 549.6L82.7 550.3L82.0 551.7L81.3 555.1L81.3 557.1L82.0 560.5L82.7 561.9L83.5 562.5L84.9 563.2M86.3 563.2L87.7 562.5L88.5 561.9L89.2 560.5L89.9 557.1L89.9 555.1L89.2 551.7L88.5 550.3L87.7 549.6L86.3 548.9M246.5 548.9L245.1 555.7M245.1 555.7L246.5 554.4L248.6 553.7L250.8 553.7L252.9 554.4L254.4 555.7L255.1 557.8L255.1 559.1L254.4 561.2L252.9 562.5L250.8 563.2L248.6 563.2L246.5 562.5L245.8 561.9L245.1 560.5L245.1 559.8L245.8 559.1L246.5 559.8L245.8 560.5M250.8 553.7L252.2 554.4L253.6 555.7L254.4 557.8L254.4 559.1L253.6 561.2L252.2 562.5L250.8 563.2M246.5 548.9L253.6 548.9M246.5 549.6L250.1 549.6L253.6 548.9M263.7 548.9L261.5 549.6L260.1 551.7L259.4 555.1L259.4 557.1L260.1 560.5L261.5 562.5L263.7 563.2L265.1 563.2L267.2 562.5L268.7 560.5L269.4 557.1L269.4 555.1L268.7 551.7L267.2 549.6L265.1 548.9L263.7 548.9M263.7 548.9L262.2 549.6L261.5 550.3L260.8 551.7L260.1 555.1L260.1 557.1L260.8 560.5L261.5 561.9L262.2 562.5L263.7 563.2M265.1 563.2L266.5 562.5L267.2 561.9L268.0 560.5L268.7 557.1L268.7 555.1L268.0 551.7L267.2 550.3L266.5 549.6L265.1 548.9M411.8 551.7L413.0 551.0L414.8 548.9L414.8 563.2M414.2 549.6L414.2 563.2M411.8 563.2L417.2 563.2M427.5 548.9L425.3 549.6L423.9 551.7L423.2 555.1L423.2 557.1L423.9 560.5L425.3 562.5L427.5 563.2L428.9 563.2L431.0 562.5L432.5 560.5L433.2 557.1L433.2 555.1L432.5 551.7L431.0 549.6L428.9 548.9L427.5 548.9M427.5 548.9L426.0 549.6L425.3 550.3L424.6 551.7L423.9 555.1L423.9 557.1L424.6 560.5L425.3 561.9L426.0 562.5L427.5 563.2M428.9 563.2L430.3 562.5L431.0 561.9L431.8 560.5L432.5 557.1L432.5 555.1L431.8 551.7L431.0 550.3L430.3 549.6L428.9 548.9M441.8 548.9L439.6 549.6L438.2 551.7L437.5 555.1L437.5 557.1L438.2 560.5L439.6 562.5L441.8 563.2L443.2 563.2L445.4 562.5L446.8 560.5L447.5 557.1L447.5 555.1L446.8 551.7L445.4 549.6L443.2 548.9L441.8 548.9M441.8 548.9L440.3 549.6L439.6 550.3L438.9 551.7L438.2 555.1L438.2 557.1L438.9 560.5L439.6 561.9L440.3 562.5L441.8 563.2M443.2 563.2L444.6 562.5L445.4 561.9L446.1 560.5L446.8 557.1L446.8 555.1L446.1 551.7L445.4 550.3L444.6 549.6L443.2 548.9M583.5 551.7L584.7 551.0L586.5 548.9L586.5 563.2M585.9 549.6L585.9 563.2M583.5 563.2L588.9 563.2M596.3 548.9L594.9 555.7M594.9 555.7L596.3 554.4L598.5 553.7L600.6 553.7L602.8 554.4L604.2 555.7L604.9 557.8L604.9 559.1L604.2 561.2L602.8 562.5L600.6 563.2L598.5 563.2L596.3 562.5L595.6 561.9L594.9 560.5L594.9 559.8L595.6 559.1L596.3 559.8L595.6 560.5M600.6 553.7L602.0 554.4L603.5 555.7L604.2 557.8L604.2 559.1L603.5 561.2L602.0 562.5L600.6 563.2M596.3 548.9L603.5 548.9M596.3 549.6L599.9 549.6L603.5 548.9M613.5 548.9L611.4 549.6L609.9 551.7L609.2 555.1L609.2 557.1L609.9 560.5L611.4 562.5L613.5 563.2L614.9 563.2L617.1 562.5L618.5 560.5L619.2 557.1L619.2 555.1L618.5 551.7L617.1 549.6L614.9 548.9L613.5 548.9M613.5 548.9L612.1 549.6L611.4 550.3L610.6 551.7L609.9 555.1L609.9 557.1L610.6 560.5L611.4 561.9L612.1 562.5L613.5 563.2M614.9 563.2L616.4 562.5L617.1 561.9L617.8 560.5L618.5 557.1L618.5 555.1L617.8 551.7L617.1 550.3L616.4 549.6L614.9 548.9M753.8 551.7L754.5 552.3L753.8 553.0L753.1 552.3L753.1 551.7L753.8 550.3L754.5 549.6L756.6 548.9L759.5 548.9L761.7 549.6L762.4 550.3L763.1 551.7L763.1 553.0L762.4 554.4L760.2 555.7L756.6 557.1L755.2 557.8L753.8 559.1L753.1 561.2L753.1 563.2M759.5 548.9L760.9 549.6L761.7 550.3L762.4 551.7L762.4 553.0L761.7 554.4L759.5 555.7L756.6 557.1M753.1 561.9L753.8 561.2L755.2 561.2L758.8 562.5L760.9 562.5L762.4 561.9L763.1 561.2M755.2 561.2L758.8 563.2L761.7 563.2L762.4 562.5L763.1 561.2L763.1 559.8M771.7 548.9L769.5 549.6L768.1 551.7L767.4 555.1L767.4 557.1L768.1 560.5L769.5 562.5L771.7 563.2L773.1 563.2L775.3 562.5L776.7 560.5L777.4 557.1L777.4 555.1L776.7 551.7L775.3 549.6L773.1 548.9L771.7 548.9M771.7 548.9L770.3 549.6L769.5 550.3L768.8 551.7L768.1 555.1L768.1 557.1L768.8 560.5L769.5 561.9L770.3 562.5L771.7 563.2M773.1 563.2L774.5 562.5L775.3 561.9L776.0 560.5L776.7 557.1L776.7 555.1L776.0 551.7L775.3 550.3L774.5 549.6L773.1 548.9M786.0 548.9L783.9 549.6L782.4 551.7L781.7 555.1L781.7 557.1L782.4 560.5L783.9 562.5L786.0 563.2L787.4 563.2L789.6 562.5L791.0 560.5L791.7 557.1L791.7 555.1L791.0 551.7L789.6 549.6L787.4 548.9L786.0 548.9M786.0 548.9L784.6 549.6L783.9 550.3L783.1 551.7L782.4 555.1L782.4 557.1L783.1 560.5L783.9 561.9L784.6 562.5L786.0 563.2M787.4 563.2L788.9 562.5L789.6 561.9L790.3 560.5L791.0 557.1L791.0 555.1L790.3 551.7L789.6 550.3L788.9 549.6L787.4 548.9"/>
<g><path class="hb" stroke-width="1.25" d="M123.6 31.8L123.6 45.6M124.3 32.4L124.3 45.0M121.4 31.8L125.0 31.8L125.0 45.6M125.0 33.7L125.8 32.4L127.2 31.8L128.7 31.8L130.8 32.4L132.3 33.7L133.0 35.7L133.0 37.0L132.3 39.0L130.8 40.3L128.7 41.0L127.2 41.0L125.8 40.3L125.0 39.0M131.6 33.7L132.3 35.1L132.3 37.7L131.6 39.0M128.7 31.8L130.1 32.4L130.8 33.1L131.6 35.1L131.6 37.7L130.8 39.7L130.1 40.3L128.7 41.0M121.4 45.6L127.2 45.6M122.1 31.8L123.6 32.4M122.9 31.8L123.6 33.1M123.6 45.0L122.1 45.6M123.6 44.3L122.9 45.6M125.0 44.3L125.8 45.6M125.0 45.0L126.5 45.6M141.6 31.8L139.4 32.4L138.0 33.7L137.3 35.7L137.3 37.0L138.0 39.0L139.4 40.3L141.6 41.0L143.1 41.0L145.2 40.3L146.7 39.0L147.4 37.0L147.4 35.7L146.7 33.7L145.2 32.4L143.1 31.8L141.6 31.8M138.7 33.7L138.0 35.1L138.0 37.7L138.7 39.0M146.0 39.0L146.7 37.7L146.7 35.1L146.0 33.7M141.6 31.8L140.2 32.4L139.4 33.1L138.7 35.1L138.7 37.7L139.4 39.7L140.2 40.3L141.6 41.0M143.1 41.0L144.5 40.3L145.2 39.7L146.0 37.7L146.0 35.1L145.2 33.1L144.5 32.4L143.1 31.8M153.1 28.5L153.1 37.7L153.8 39.7L154.5 40.3L156.0 41.0L157.4 41.0L158.9 40.3L159.6 39.0M153.8 28.5L153.8 38.4L154.5 39.7M153.1 28.5L154.5 27.1L154.5 38.4L155.3 40.3L156.0 41.0M150.9 31.8L157.4 31.8M163.8 35.7L171.8 35.7L171.8 34.4L171.1 33.1L170.4 32.4L168.2 31.8L166.7 31.8L164.6 32.4L163.1 33.7L162.4 35.7L162.4 37.0L163.1 39.0L164.6 40.3L166.7 41.0L168.2 41.0L170.4 40.3L171.8 39.0M171.1 35.1L171.1 34.4L170.4 33.1M163.8 33.7L163.1 35.1L163.1 37.7L163.8 39.0M170.4 35.7L170.4 33.7L169.6 32.4L168.2 31.8M166.7 31.8L165.3 32.4L164.6 33.1L163.8 35.1L163.8 37.7L164.6 39.7L165.3 40.3L166.7 41.0M177.5 31.8L177.5 41.0M178.2 32.4L178.2 40.3M175.3 31.8L178.9 31.8L178.9 41.0M178.9 34.4L179.7 33.1L180.4 32.4L181.8 31.8L184.0 31.8L185.5 32.4L186.2 33.1L186.9 35.1L186.9 41.0M185.5 33.1L186.2 35.1L186.2 40.3M184.0 31.8L184.7 32.4L185.5 34.4L185.5 41.0M175.3 41.0L181.1 41.0M183.3 41.0L189.1 41.0M176.0 31.8L177.5 32.4M176.8 31.8L177.5 33.1M177.5 40.3L176.0 41.0M177.5 39.7L176.8 41.0M178.9 39.7L179.7 41.0M178.9 40.3L180.4 41.0M185.5 40.3L184.0 41.0M185.5 39.7L184.7 41.0M186.9 39.7L187.6 41.0M186.9 40.3L188.4 41.0M194.0 28.5L194.0 37.7L194.8 39.7L195.5 40.3L196.9 41.0L198.4 41.0L199.8 40.3L200.6 39.0M194.8 28.5L194.8 38.4L195.5 39.7M194.0 28.5L195.5 27.1L195.5 38.4L196.2 40.3L196.9 41.0M191.9 31.8L198.4 31.8M204.8 27.1L204.8 28.5L206.2 28.5L206.2 27.1L204.8 27.1M205.5 27.1L205.5 28.5M204.8 27.8L206.2 27.8M204.8 31.8L204.8 41.0M205.5 32.4L205.5 40.3M202.6 31.8L206.2 31.8L206.2 41.0M202.6 41.0L208.4 41.0M203.3 31.8L204.8 32.4M204.1 31.8L204.8 33.1M204.8 40.3L203.3 41.0M204.8 39.7L204.1 41.0M206.2 39.7L207.0 41.0M206.2 40.3L207.7 41.0M213.4 33.7L213.4 33.1L214.1 33.1L214.1 34.4L212.6 34.4L212.6 33.1L213.4 32.4L214.8 31.8L217.7 31.8L219.2 32.4L219.9 33.1L220.6 34.4L220.6 39.0L221.3 40.3L222.1 41.0M219.2 33.1L219.9 34.4L219.9 39.0L220.6 40.3M217.7 31.8L218.4 32.4L219.2 33.7L219.2 39.0L219.9 40.3L222.1 41.0L222.8 41.0M219.2 35.1L218.4 35.7L214.8 36.4L212.6 37.0L211.9 38.4L211.9 39.0L212.6 40.3L214.8 41.0L217.0 41.0L218.4 40.3L219.2 39.0M213.4 37.0L212.6 38.4L212.6 39.0L213.4 40.3M218.4 35.7L215.5 36.4L214.1 37.0L213.4 38.4L213.4 39.0L214.1 40.3L214.8 41.0M227.7 27.1L227.7 41.0M228.5 27.8L228.5 40.3M225.6 27.1L229.2 27.1L229.2 41.0M225.6 41.0L231.4 41.0M226.3 27.1L227.7 27.8M227.0 27.1L227.7 28.5M227.7 40.3L226.3 41.0M227.7 39.7L227.0 41.0M229.2 39.7L229.9 41.0M229.2 40.3L230.6 41.0M236.3 31.8L235.6 32.4L235.6 33.1L236.3 33.7L237.0 33.7L237.8 33.1L237.8 32.4L237.0 31.8L236.3 31.8M236.3 32.4L236.3 33.1L237.0 33.1L237.0 32.4L236.3 32.4M236.3 39.0L235.6 39.7L235.6 40.3L236.3 41.0L237.0 41.0L237.8 40.3L237.8 39.7L237.0 39.0L236.3 39.0M236.3 39.7L236.3 40.3L237.0 40.3L237.0 39.7L236.3 39.7M261.5 33.1L262.2 31.8L262.2 34.4L261.5 33.1L260.8 32.4L259.3 31.8L256.4 31.8L254.9 32.4L254.2 33.1L254.2 34.4L254.9 35.7L256.4 36.4L260.0 37.0L261.5 37.7L262.2 39.7M254.9 32.4L254.2 34.4M254.9 35.1L256.4 35.7L260.0 36.4L261.5 37.0M262.2 37.7L261.5 40.3M254.2 33.1L254.9 34.4L256.4 35.1L260.0 35.7L261.5 36.4L262.2 37.7L262.2 39.7L261.5 40.3L260.0 41.0L257.1 41.0L255.7 40.3L254.9 39.7L254.2 38.4L254.2 41.0L254.9 39.7M268.1 28.5L268.1 37.7L268.8 39.7L269.5 40.3L271.0 41.0L272.4 41.0L273.9 40.3L274.6 39.0M268.8 28.5L268.8 38.4L269.5 39.7M268.1 28.5L269.5 27.1L269.5 38.4L270.3 40.3L271.0 41.0M265.9 31.8L272.4 31.8M279.0 35.7L287.0 35.7L287.0 34.4L286.3 33.1L285.6 32.4L283.4 31.8L281.9 31.8L279.8 32.4L278.3 33.7L277.6 35.7L277.6 37.0L278.3 39.0L279.8 40.3L281.9 41.0L283.4 41.0L285.6 40.3L287.0 39.0M286.3 35.1L286.3 34.4L285.6 33.1M279.0 33.7L278.3 35.1L278.3 37.7L279.0 39.0M285.6 35.7L285.6 33.7L284.8 32.4L283.4 31.8M281.9 31.8L280.5 32.4L279.8 33.1L279.0 35.1L279.0 37.7L279.8 39.7L280.5 40.3L281.9 41.0M292.9 27.1L292.9 41.0M293.6 27.8L293.6 40.3M290.7 27.1L294.3 27.1L294.3 41.0M290.7 41.0L296.5 41.0M291.4 27.1L292.9 27.8M292.2 27.1L292.9 28.5M292.9 40.3L291.4 41.0M292.9 39.7L292.2 41.0M294.3 39.7L295.1 41.0M294.3 40.3L295.8 41.0M301.7 27.1L301.7 41.0M302.4 27.8L302.4 40.3M299.5 27.1L303.1 27.1L303.1 41.0M299.5 41.0L305.3 41.0M300.2 27.1L301.7 27.8M300.9 27.1L301.7 28.5M301.7 40.3L300.2 41.0M301.7 39.7L300.9 41.0M303.1 39.7L303.8 41.0M303.1 40.3L304.6 41.0M310.4 33.7L310.4 33.1L311.2 33.1L311.2 34.4L309.7 34.4L309.7 33.1L310.4 32.4L311.9 31.8L314.8 31.8L316.2 32.4L317.0 33.1L317.7 34.4L317.7 39.0L318.4 40.3L319.1 41.0M316.2 33.1L317.0 34.4L317.0 39.0L317.7 40.3M314.8 31.8L315.5 32.4L316.2 33.7L316.2 39.0L317.0 40.3L319.1 41.0L319.9 41.0M316.2 35.1L315.5 35.7L311.9 36.4L309.7 37.0L309.0 38.4L309.0 39.0L309.7 40.3L311.9 41.0L314.1 41.0L315.5 40.3L316.2 39.0M310.4 37.0L309.7 38.4L309.7 39.0L310.4 40.3M315.5 35.7L312.6 36.4L311.2 37.0L310.4 38.4L310.4 39.0L311.2 40.3L311.9 41.0M325.0 31.8L325.0 41.0M325.8 32.4L325.8 40.3M322.8 31.8L326.5 31.8L326.5 41.0M331.5 33.1L331.5 32.4L330.8 32.4L330.8 33.7L332.3 33.7L332.3 32.4L331.5 31.8L330.1 31.8L328.6 32.4L327.2 33.7L326.5 35.7M322.8 41.0L328.6 41.0M323.6 31.8L325.0 32.4M324.3 31.8L325.0 33.1M325.0 40.3L323.6 41.0M325.0 39.7L324.3 41.0M326.5 39.7L327.2 41.0M326.5 40.3L327.9 41.0M355.6 27.1L355.6 41.0L359.2 41.0M356.3 27.8L356.3 40.3M353.4 27.1L357.1 27.1L357.1 41.0M355.6 33.7L354.9 32.4L353.4 31.8L352.0 31.8L349.8 32.4L348.3 33.7L347.6 35.7L347.6 37.0L348.3 39.0L349.8 40.3L352.0 41.0L353.4 41.0L354.9 40.3L355.6 39.0M349.1 33.7L348.3 35.1L348.3 37.7L349.1 39.0M352.0 31.8L350.5 32.4L349.8 33.1L349.1 35.1L349.1 37.7L349.8 39.7L350.5 40.3L352.0 41.0M354.1 27.1L355.6 27.8M354.9 27.1L355.6 28.5M357.1 39.7L357.8 41.0M357.1 40.3L358.5 41.0M364.5 27.1L364.5 28.5L365.9 28.5L365.9 27.1L364.5 27.1M365.2 27.1L365.2 28.5M364.5 27.8L365.9 27.8M364.5 31.8L364.5 41.0M365.2 32.4L365.2 40.3M362.3 31.8L365.9 31.8L365.9 41.0M362.3 41.0L368.1 41.0M363.0 31.8L364.5 32.4M363.7 31.8L364.5 33.1M364.5 40.3L363.0 41.0M364.5 39.7L363.7 41.0M365.9 39.7L366.6 41.0M365.9 40.3L367.4 41.0M379.1 33.1L379.8 31.8L379.8 34.4L379.1 33.1L378.4 32.4L376.9 31.8L374.0 31.8L372.6 32.4L371.9 33.1L371.9 34.4L372.6 35.7L374.0 36.4L377.7 37.0L379.1 37.7L379.8 39.7M372.6 32.4L371.9 34.4M372.6 35.1L374.0 35.7L377.7 36.4L379.1 37.0M379.8 37.7L379.1 40.3M371.9 33.1L372.6 34.4L374.0 35.1L377.7 35.7L379.1 36.4L379.8 37.7L379.8 39.7L379.1 40.3L377.7 41.0L374.8 41.0L373.3 40.3L372.6 39.7L371.9 38.4L371.9 41.0L372.6 39.7M393.0 34.4L393.0 33.7L392.3 33.7L392.3 35.1L393.8 35.1L393.8 33.7L392.3 32.4L390.9 31.8L388.7 31.8L386.5 32.4L385.1 33.7L384.3 35.7L384.3 37.0L385.1 39.0L386.5 40.3L388.7 41.0L390.1 41.0L392.3 40.3L393.8 39.0M385.8 33.7L385.1 35.1L385.1 37.7L385.8 39.0M388.7 31.8L387.2 32.4L386.5 33.1L385.8 35.1L385.8 37.7L386.5 39.7L387.2 40.3L388.7 41.0M405.0 29.8L405.0 40.3M399.2 35.1L410.8 35.1M424.7 27.1L424.7 41.0L428.3 41.0M425.4 27.8L425.4 40.3M422.5 27.1L426.2 27.1L426.2 41.0M424.7 33.7L424.0 32.4L422.5 31.8L421.1 31.8L418.9 32.4L417.4 33.7L416.7 35.7L416.7 37.0L417.4 39.0L418.9 40.3L421.1 41.0L422.5 41.0L424.0 40.3L424.7 39.0M418.2 33.7L417.4 35.1L417.4 37.7L418.2 39.0M421.1 31.8L419.6 32.4L418.9 33.1L418.2 35.1L418.2 37.7L418.9 39.7L419.6 40.3L421.1 41.0M423.2 27.1L424.7 27.8M424.0 27.1L424.7 28.5M426.2 39.7L426.9 41.0M426.2 40.3L427.6 41.0M433.0 33.7L433.0 33.1L433.7 33.1L433.7 34.4L432.2 34.4L432.2 33.1L433.0 32.4L434.4 31.8L437.3 31.8L438.8 32.4L439.5 33.1L440.2 34.4L440.2 39.0L440.9 40.3L441.7 41.0M438.8 33.1L439.5 34.4L439.5 39.0L440.2 40.3M437.3 31.8L438.0 32.4L438.8 33.7L438.8 39.0L439.5 40.3L441.7 41.0L442.4 41.0M438.8 35.1L438.0 35.7L434.4 36.4L432.2 37.0L431.5 38.4L431.5 39.0L432.2 40.3L434.4 41.0L436.6 41.0L438.0 40.3L438.8 39.0M433.0 37.0L432.2 38.4L432.2 39.0L433.0 40.3M438.0 35.7L435.1 36.4L433.7 37.0L433.0 38.4L433.0 39.0L433.7 40.3L434.4 41.0M447.0 31.8L447.0 41.0M447.7 32.4L447.7 40.3M444.8 31.8L448.5 31.8L448.5 41.0M453.5 33.1L453.5 32.4L452.8 32.4L452.8 33.7L454.3 33.7L454.3 32.4L453.5 31.8L452.1 31.8L450.6 32.4L449.2 33.7L448.5 35.7M444.8 41.0L450.6 41.0M445.6 31.8L447.0 32.4M446.3 31.8L447.0 33.1M447.0 40.3L445.6 41.0M447.0 39.7L446.3 41.0M448.5 39.7L449.2 41.0M448.5 40.3L449.9 41.0M458.9 27.1L458.9 41.0M459.6 27.8L459.6 40.3M456.7 27.1L460.3 27.1L460.3 41.0M466.9 32.4L460.3 38.4M463.2 35.7L468.3 41.0M463.2 36.4L467.6 41.0M462.5 36.4L466.9 41.0M464.7 31.8L469.8 31.8M456.7 41.0L462.5 41.0M464.7 41.0L469.8 41.0M457.4 27.1L458.9 27.8M458.2 27.1L458.9 28.5M465.4 31.8L466.9 32.4M469.0 31.8L466.9 32.4M458.9 40.3L457.4 41.0M458.9 39.7L458.2 41.0M460.3 39.7L461.1 41.0M460.3 40.3L461.8 41.0M466.9 39.7L465.4 41.0M466.1 39.7L469.0 41.0M474.4 35.1L486.0 35.1M493.7 31.8L493.7 41.0M494.4 32.4L494.4 40.3M491.5 31.8L495.1 31.8L495.1 41.0M495.1 34.4L495.9 33.1L496.6 32.4L498.1 31.8L500.2 31.8L501.7 32.4L502.4 33.1L503.1 35.1L503.1 41.0M501.7 33.1L502.4 35.1L502.4 40.3M500.2 31.8L500.9 32.4L501.7 34.4L501.7 41.0M503.1 34.4L503.8 33.1L504.6 32.4L506.0 31.8L508.2 31.8L509.6 32.4L510.4 33.1L511.1 35.1L511.1 41.0M509.6 33.1L510.4 35.1L510.4 40.3M508.2 31.8L508.9 32.4L509.6 34.4L509.6 41.0M491.5 41.0L497.3 41.0M499.5 41.0L505.3 41.0M507.5 41.0L513.3 41.0M492.2 31.8L493.7 32.4M493.0 31.8L493.7 33.1M493.7 40.3L492.2 41.0M493.7 39.7L493.0 41.0M495.1 39.7L495.9 41.0M495.1 40.3L496.6 41.0M501.7 40.3L500.2 41.0M501.7 39.7L500.9 41.0M503.1 39.7L503.8 41.0M503.1 40.3L504.6 41.0M509.6 40.3L508.2 41.0M509.6 39.7L508.9 41.0M511.1 39.7L511.8 41.0M511.1 40.3L512.5 41.0M518.0 33.7L518.0 33.1L518.7 33.1L518.7 34.4L517.2 34.4L517.2 33.1L518.0 32.4L519.4 31.8L522.3 31.8L523.8 32.4L524.5 33.1L525.2 34.4L525.2 39.0L525.9 40.3L526.7 41.0M523.8 33.1L524.5 34.4L524.5 39.0L525.2 40.3M522.3 31.8L523.0 32.4L523.8 33.7L523.8 39.0L524.5 40.3L526.7 41.0L527.4 41.0M523.8 35.1L523.0 35.7L519.4 36.4L517.2 37.0L516.5 38.4L516.5 39.0L517.2 40.3L519.4 41.0L521.6 41.0L523.0 40.3L523.8 39.0M518.0 37.0L517.2 38.4L517.2 39.0L518.0 40.3M523.0 35.7L520.1 36.4L518.7 37.0L518.0 38.4L518.0 39.0L518.7 40.3L519.4 41.0M532.1 28.5L532.1 37.7L532.8 39.7L533.5 40.3L535.0 41.0L536.4 41.0L537.9 40.3L538.6 39.0M532.8 28.5L532.8 38.4L533.5 39.7M532.1 28.5L533.5 27.1L533.5 38.4L534.2 40.3L535.0 41.0M529.9 31.8L536.4 31.8M542.6 28.5L542.6 37.7L543.3 39.7L544.0 40.3L545.5 41.0L546.9 41.0L548.4 40.3L549.1 39.0M543.3 28.5L543.3 38.4L544.0 39.7M542.6 28.5L544.0 27.1L544.0 38.4L544.7 40.3L545.5 41.0M540.4 31.8L546.9 31.8M553.0 35.7L561.0 35.7L561.0 34.4L560.3 33.1L559.6 32.4L557.4 31.8L555.9 31.8L553.8 32.4L552.3 33.7L551.6 35.7L551.6 37.0L552.3 39.0L553.8 40.3L555.9 41.0L557.4 41.0L559.6 40.3L561.0 39.0M560.3 35.1L560.3 34.4L559.6 33.1M553.0 33.7L552.3 35.1L552.3 37.7L553.0 39.0M559.6 35.7L559.6 33.7L558.8 32.4L557.4 31.8M555.9 31.8L554.5 32.4L553.8 33.1L553.0 35.1L553.0 37.7L553.8 39.7L554.5 40.3L555.9 41.0M566.4 31.8L566.4 41.0M567.1 32.4L567.1 40.3M564.2 31.8L567.9 31.8L567.9 41.0M572.9 33.1L572.9 32.4L572.2 32.4L572.2 33.7L573.7 33.7L573.7 32.4L572.9 31.8L571.5 31.8L570.0 32.4L568.6 33.7L567.9 35.7M564.2 41.0L570.0 41.0M565.0 31.8L566.4 32.4M565.7 31.8L566.4 33.1M566.4 40.3L565.0 41.0M566.4 39.7L565.7 41.0M567.9 39.7L568.6 41.0M567.9 40.3L569.3 41.0M591.4 27.1L591.4 41.0M592.1 27.8L592.1 40.3M589.2 27.1L592.9 27.1L592.9 41.0M592.9 34.4L593.6 33.1L594.3 32.4L595.8 31.8L597.9 31.8L599.4 32.4L600.1 33.1L600.8 35.1L600.8 41.0M599.4 33.1L600.1 35.1L600.1 40.3M597.9 31.8L598.6 32.4L599.4 34.4L599.4 41.0M589.2 41.0L595.0 41.0M597.2 41.0L603.0 41.0M589.9 27.1L591.4 27.8M590.7 27.1L591.4 28.5M591.4 40.3L589.9 41.0M591.4 39.7L590.7 41.0M592.9 39.7L593.6 41.0M592.9 40.3L594.3 41.0M599.4 40.3L597.9 41.0M599.4 39.7L598.6 41.0M600.8 39.7L601.5 41.0M600.8 40.3L602.3 41.0M607.6 33.7L607.6 33.1L608.3 33.1L608.3 34.4L606.9 34.4L606.9 33.1L607.6 32.4L609.1 31.8L612.0 31.8L613.4 32.4L614.1 33.1L614.9 34.4L614.9 39.0L615.6 40.3L616.3 41.0M613.4 33.1L614.1 34.4L614.1 39.0L614.9 40.3M612.0 31.8L612.7 32.4L613.4 33.7L613.4 39.0L614.1 40.3L616.3 41.0L617.0 41.0M613.4 35.1L612.7 35.7L609.1 36.4L606.9 37.0L606.2 38.4L606.2 39.0L606.9 40.3L609.1 41.0L611.2 41.0L612.7 40.3L613.4 39.0M607.6 37.0L606.9 38.4L606.9 39.0L607.6 40.3M612.7 35.7L609.8 36.4L608.3 37.0L607.6 38.4L607.6 39.0L608.3 40.3L609.1 41.0M621.6 27.1L621.6 41.0M622.4 27.8L622.4 40.3M619.5 27.1L623.1 27.1L623.1 41.0M619.5 41.0L625.3 41.0M620.2 27.1L621.6 27.8M620.9 27.1L621.6 28.5M621.6 40.3L620.2 41.0M621.6 39.7L620.9 41.0M623.1 39.7L623.8 41.0M623.1 40.3L624.5 41.0M632.8 31.8L630.6 32.4L629.1 33.7L628.4 35.7L628.4 37.0L629.1 39.0L630.6 40.3L632.8 41.0L634.2 41.0L636.4 40.3L637.9 39.0L638.6 37.0L638.6 35.7L637.9 33.7L636.4 32.4L634.2 31.8L632.8 31.8M629.9 33.7L629.1 35.1L629.1 37.7L629.9 39.0M637.1 39.0L637.9 37.7L637.9 35.1L637.1 33.7M632.8 31.8L631.3 32.4L630.6 33.1L629.9 35.1L629.9 37.7L630.6 39.7L631.3 40.3L632.8 41.0M634.2 41.0L635.7 40.3L636.4 39.7L637.1 37.7L637.1 35.1L636.4 33.1L635.7 32.4L634.2 31.8M147.3 59.0L147.3 68.2L148.0 70.2L148.8 70.8L150.2 71.5L151.7 71.5L153.1 70.8L153.8 69.5M148.0 59.0L148.0 68.9L148.8 70.2M147.3 59.0L148.8 57.6L148.8 68.9L149.5 70.8L150.2 71.5M145.1 62.3L151.7 62.3M158.0 62.3L158.0 71.5M158.8 62.9L158.8 70.8M155.9 62.3L159.5 62.3L159.5 71.5M164.6 63.6L164.6 62.9L163.8 62.9L163.8 64.2L165.3 64.2L165.3 62.9L164.6 62.3L163.1 62.3L161.7 62.9L160.2 64.2L159.5 66.2M155.9 71.5L161.7 71.5M156.6 62.3L158.0 62.9M157.3 62.3L158.0 63.6M158.0 70.8L156.6 71.5M158.0 70.2L157.3 71.5M159.5 70.2L160.2 71.5M159.5 70.8L160.9 71.5M170.2 64.2L170.2 63.6L170.9 63.6L170.9 64.9L169.5 64.9L169.5 63.6L170.2 62.9L171.7 62.3L174.6 62.3L176.0 62.9L176.7 63.6L177.5 64.9L177.5 69.5L178.2 70.8L178.9 71.5M176.0 63.6L176.7 64.9L176.7 69.5L177.5 70.8M174.6 62.3L175.3 62.9L176.0 64.2L176.0 69.5L176.7 70.8L178.9 71.5L179.6 71.5M176.0 65.6L175.3 66.2L171.7 66.9L169.5 67.5L168.8 68.9L168.8 69.5L169.5 70.8L171.7 71.5L173.8 71.5L175.3 70.8L176.0 69.5M170.2 67.5L169.5 68.9L169.5 69.5L170.2 70.8M175.3 66.2L172.4 66.9L170.9 67.5L170.2 68.9L170.2 69.5L170.9 70.8L171.7 71.5M191.8 64.9L191.8 64.2L191.1 64.2L191.1 65.6L192.6 65.6L192.6 64.2L191.1 62.9L189.7 62.3L187.5 62.3L185.3 62.9L183.9 64.2L183.1 66.2L183.1 67.5L183.9 69.5L185.3 70.8L187.5 71.5L188.9 71.5L191.1 70.8L192.6 69.5M184.6 64.2L183.9 65.6L183.9 68.2L184.6 69.5M187.5 62.3L186.0 62.9L185.3 63.6L184.6 65.6L184.6 68.2L185.3 70.2L186.0 70.8L187.5 71.5M198.2 66.2L206.2 66.2L206.2 64.9L205.5 63.6L204.7 62.9L202.6 62.3L201.1 62.3L198.9 62.9L197.5 64.2L196.8 66.2L196.8 67.5L197.5 69.5L198.9 70.8L201.1 71.5L202.6 71.5L204.7 70.8L206.2 69.5M205.5 65.6L205.5 64.9L204.7 63.6M198.2 64.2L197.5 65.6L197.5 68.2L198.2 69.5M204.7 66.2L204.7 64.2L204.0 62.9L202.6 62.3M201.1 62.3L199.7 62.9L198.9 63.6L198.2 65.6L198.2 68.2L198.9 70.2L199.7 70.8L201.1 71.5M211.9 62.3L211.9 71.5M212.6 62.9L212.6 70.8M209.7 62.3L213.3 62.3L213.3 71.5M218.4 63.6L218.4 62.9L217.7 62.9L217.7 64.2L219.1 64.2L219.1 62.9L218.4 62.3L216.9 62.3L215.5 62.9L214.0 64.2L213.3 66.2M209.7 71.5L215.5 71.5M210.4 62.3L211.9 62.9M211.1 62.3L211.9 63.6M211.9 70.8L210.4 71.5M211.9 70.2L211.1 71.5M213.3 70.2L214.0 71.5M213.3 70.8L214.8 71.5M229.8 63.6L230.6 62.3L230.6 64.9L229.8 63.6L229.1 62.9L227.7 62.3L224.8 62.3L223.3 62.9L222.6 63.6L222.6 64.9L223.3 66.2L224.8 66.9L228.4 67.5L229.8 68.2L230.6 70.2M223.3 62.9L222.6 64.9M223.3 65.6L224.8 66.2L228.4 66.9L229.8 67.5M230.6 68.2L229.8 70.8M222.6 63.6L223.3 64.9L224.8 65.6L228.4 66.2L229.8 66.9L230.6 68.2L230.6 70.2L229.8 70.8L228.4 71.5L225.5 71.5L224.0 70.8L223.3 70.2L222.6 68.9L222.6 71.5L223.3 70.2M236.2 62.3L235.5 62.9L235.5 63.6L236.2 64.2L237.0 64.2L237.7 63.6L237.7 62.9L237.0 62.3L236.2 62.3M236.2 62.9L236.2 63.6L237.0 63.6L237.0 62.9L236.2 62.9M236.2 69.5L235.5 70.2L235.5 70.8L236.2 71.5L237.0 71.5L237.7 70.8L237.7 70.2L237.0 69.5L236.2 69.5M236.2 70.2L236.2 70.8L237.0 70.8L237.0 70.2L236.2 70.2M268.5 70.4L268.5 75.7L268.9 76.8L269.4 77.2L270.2 77.6L271.1 77.6L272.0 77.2L272.4 76.5M268.9 70.4L268.9 76.1L269.4 76.8M268.5 70.4L269.4 69.6L269.4 76.1L269.8 77.2L270.2 77.6M267.2 72.3L271.1 72.3M293.7 60.3L293.7 60.9L294.5 60.9L294.5 60.3L293.7 60.3M293.7 59.6L294.5 59.6L295.2 60.3L295.2 60.9L294.5 61.6L293.7 61.6L293.0 60.9L293.0 60.3L293.7 59.0L294.5 58.3L296.6 57.6L299.5 57.6L301.7 58.3L302.4 59.0L303.2 60.3L303.2 61.6L302.4 62.9L300.3 64.2L296.6 65.6L295.2 66.2L293.7 67.5L293.0 69.5L293.0 71.5M301.7 59.0L302.4 60.3L302.4 61.6L301.7 62.9M299.5 57.6L301.0 58.3L301.7 60.3L301.7 61.6L301.0 62.9L299.5 64.2L296.6 65.6M293.0 70.2L293.7 69.5L295.2 69.5L298.8 70.2L301.7 70.2L303.2 69.5M295.2 69.5L298.8 70.8L301.7 70.8L302.4 70.2M295.2 69.5L298.8 71.5L301.7 71.5L302.4 70.8L303.2 69.5L303.2 68.2M311.9 57.6L309.7 58.3L308.2 60.3L307.5 63.6L307.5 65.6L308.2 68.9L309.7 70.8L311.9 71.5L313.3 71.5L315.5 70.8L316.9 68.9L317.7 65.6L317.7 63.6L316.9 60.3L315.5 58.3L313.3 57.6L311.9 57.6M309.7 59.0L309.0 60.3L308.2 62.9L308.2 66.2L309.0 68.9L309.7 70.2M315.5 70.2L316.2 68.9L316.9 66.2L316.9 62.9L316.2 60.3L315.5 59.0M311.9 57.6L310.4 58.3L309.7 59.6L309.0 62.9L309.0 66.2L309.7 69.5L310.4 70.8L311.9 71.5M313.3 71.5L314.8 70.8L315.5 69.5L316.2 66.2L316.2 62.9L315.5 59.6L314.8 58.3L313.3 57.6M326.4 57.6L324.2 58.3L322.7 60.3L322.0 63.6L322.0 65.6L322.7 68.9L324.2 70.8L326.4 71.5L327.8 71.5L330.0 70.8L331.4 68.9L332.2 65.6L332.2 63.6L331.4 60.3L330.0 58.3L327.8 57.6L326.4 57.6M324.2 59.0L323.5 60.3L322.7 62.9L322.7 66.2L323.5 68.9L324.2 70.2M330.0 70.2L330.7 68.9L331.4 66.2L331.4 62.9L330.7 60.3L330.0 59.0M326.4 57.6L324.9 58.3L324.2 59.6L323.5 62.9L323.5 66.2L324.2 69.5L324.9 70.8L326.4 71.5M327.8 71.5L329.3 70.8L330.0 69.5L330.7 66.2L330.7 62.9L330.0 59.6L329.3 58.3L327.8 57.6M345.0 57.6L345.0 71.5M345.7 58.3L345.7 70.8M342.8 57.6L346.4 57.6L346.4 71.5M353.0 62.9L346.4 68.9M349.4 66.2L354.4 71.5M349.4 66.9L353.7 71.5M348.6 66.9L353.0 71.5M350.8 62.3L355.9 62.3M342.8 71.5L348.6 71.5M350.8 71.5L355.9 71.5M343.6 57.6L345.0 58.3M344.3 57.6L345.0 59.0M351.5 62.3L353.0 62.9M355.1 62.3L353.0 62.9M345.0 70.8L343.6 71.5M345.0 70.2L344.3 71.5M346.4 70.2L347.2 71.5M346.4 70.8L347.9 71.5M353.0 70.2L351.5 71.5M352.2 70.2L355.1 71.5M360.9 62.3L360.9 76.1M361.7 62.9L361.7 75.5M358.8 62.3L362.4 62.3L362.4 76.1M362.4 64.2L363.1 62.9L364.6 62.3L366.0 62.3L368.2 62.9L369.6 64.2L370.4 66.2L370.4 67.5L369.6 69.5L368.2 70.8L366.0 71.5L364.6 71.5L363.1 70.8L362.4 69.5M368.9 64.2L369.6 65.6L369.6 68.2L368.9 69.5M366.0 62.3L367.5 62.9L368.2 63.6L368.9 65.6L368.9 68.2L368.2 70.2L367.5 70.8L366.0 71.5M358.8 76.1L364.6 76.1M359.5 62.3L360.9 62.9M360.2 62.3L360.9 63.6M360.9 75.5L359.5 76.1M360.9 74.8L360.2 76.1M362.4 74.8L363.1 76.1M362.4 75.5L363.9 76.1M383.4 64.9L383.4 64.2L382.7 64.2L382.7 65.6L384.1 65.6L384.1 64.2L382.7 62.9L381.2 62.3L379.1 62.3L376.9 62.9L375.4 64.2L374.7 66.2L374.7 67.5L375.4 69.5L376.9 70.8L379.1 71.5L380.5 71.5L382.7 70.8L384.1 69.5M376.2 64.2L375.4 65.6L375.4 68.2L376.2 69.5M379.1 62.3L377.6 62.9L376.9 63.6L376.2 65.6L376.2 68.2L376.9 70.2L377.6 70.8L379.1 71.5M391.4 70.8L390.7 71.5L389.9 71.5L389.2 70.8L389.2 70.2L389.9 69.5L390.7 69.5L391.4 70.2L391.4 72.2L390.7 73.5L389.2 74.1M389.9 70.2L389.9 70.8L390.7 70.8L390.7 70.2L389.9 70.2M390.7 71.5L391.4 72.2M391.4 70.8L390.7 73.5M447.1 60.3L447.1 60.9L447.9 60.9L447.9 60.3L447.1 60.3M447.1 59.6L447.9 59.6L448.6 60.3L448.6 60.9L447.9 61.6L447.1 61.6L446.4 60.9L446.4 60.3L447.1 59.0L447.9 58.3L450.1 57.6L452.9 57.6L455.1 58.3L455.9 59.6L455.9 61.6L455.1 62.9L452.9 63.6M454.4 58.3L455.1 59.6L455.1 61.6L454.4 62.9M452.2 57.6L453.7 58.3L454.4 59.6L454.4 61.6L453.7 62.9L452.2 63.6M450.8 63.6L452.9 63.6L454.4 64.2L455.9 65.6L456.6 66.9L456.6 68.9L455.9 70.2L455.1 70.8L452.9 71.5L450.1 71.5L447.9 70.8L447.1 70.2L446.4 68.9L446.4 68.2L447.1 67.5L447.9 67.5L448.6 68.2L448.6 68.9L447.9 69.5L447.1 69.5M455.1 65.6L455.9 66.9L455.9 68.9L455.1 70.2M452.2 63.6L453.7 64.2L454.4 64.9L455.1 66.9L455.1 68.9L454.4 70.8L452.9 71.5M447.1 68.2L447.1 68.9L447.9 68.9L447.9 68.2L447.1 68.2M462.4 69.5L461.6 70.2L461.6 70.8L462.4 71.5L463.1 71.5L463.8 70.8L463.8 70.2L463.1 69.5L462.4 69.5M462.4 70.2L462.4 70.8L463.1 70.8L463.1 70.2L462.4 70.2M470.4 57.6L468.9 64.2L470.4 62.9L472.5 62.3L474.7 62.3L476.9 62.9L478.3 64.2L479.1 66.2L479.1 67.5L478.3 69.5L476.9 70.8L474.7 71.5L472.5 71.5L470.4 70.8L469.6 70.2L468.9 68.9L468.9 68.2L469.6 67.5L470.4 67.5L471.1 68.2L471.1 68.9L470.4 69.5L469.6 69.5M477.6 64.2L478.3 65.6L478.3 68.2L477.6 69.5M474.7 62.3L476.1 62.9L476.9 63.6L477.6 65.6L477.6 68.2L476.9 70.2L476.1 70.8L474.7 71.5M469.6 68.2L469.6 68.9L470.4 68.9L470.4 68.2L469.6 68.2M470.4 57.6L477.6 57.6M470.4 58.3L476.1 58.3M470.4 59.0L473.2 59.0L476.1 58.3L477.6 57.6M486.3 70.8L485.6 71.5L484.9 71.5L484.1 70.8L484.1 70.2L484.9 69.5L485.6 69.5L486.3 70.2L486.3 72.2L485.6 73.5L484.1 74.1M484.9 70.2L484.9 70.8L485.6 70.8L485.6 70.2L484.9 70.2M485.6 71.5L486.3 72.2M486.3 70.8L485.6 73.5M543.6 60.3L543.6 60.9L544.3 60.9L544.3 60.3L543.6 60.3M543.6 59.6L544.3 59.6L545.0 60.3L545.0 60.9L544.3 61.6L543.6 61.6L542.8 60.9L542.8 60.3L543.6 59.0L544.3 58.3L546.5 57.6L549.4 57.6L551.5 58.3L552.3 59.0L553.0 60.3L553.0 61.6L552.3 62.9L550.1 64.2L546.5 65.6L545.0 66.2L543.6 67.5L542.8 69.5L542.8 71.5M551.5 59.0L552.3 60.3L552.3 61.6L551.5 62.9M549.4 57.6L550.8 58.3L551.5 60.3L551.5 61.6L550.8 62.9L549.4 64.2L546.5 65.6M542.8 70.2L543.6 69.5L545.0 69.5L548.6 70.2L551.5 70.2L553.0 69.5M545.0 69.5L548.6 70.8L551.5 70.8L552.3 70.2M545.0 69.5L548.6 71.5L551.5 71.5L552.3 70.8L553.0 69.5L553.0 68.2M560.2 70.8L559.5 71.5L558.8 71.5L558.1 70.8L558.1 70.2L558.8 69.5L559.5 69.5L560.2 70.2L560.2 72.2L559.5 73.5L558.1 74.1M558.8 70.2L558.8 70.8L559.5 70.8L559.5 70.2L558.8 70.2M559.5 71.5L560.2 72.2M560.2 70.8L559.5 73.5M622.1 57.6L619.9 58.3L618.5 60.3L617.7 63.6L617.7 65.6L618.5 68.9L619.9 70.8L622.1 71.5L623.5 71.5L625.7 70.8L627.2 68.9L627.9 65.6L627.9 63.6L627.2 60.3L625.7 58.3L623.5 57.6L622.1 57.6M619.9 59.0L619.2 60.3L618.5 62.9L618.5 66.2L619.2 68.9L619.9 70.2M625.7 70.2L626.4 68.9L627.2 66.2L627.2 62.9L626.4 60.3L625.7 59.0M622.1 57.6L620.6 58.3L619.9 59.6L619.2 62.9L619.2 66.2L619.9 69.5L620.6 70.8L622.1 71.5M623.5 71.5L625.0 70.8L625.7 69.5L626.4 66.2L626.4 62.9L625.7 59.6L625.0 58.3L623.5 57.6M633.7 69.5L633.0 70.2L633.0 70.8L633.7 71.5L634.4 71.5L635.1 70.8L635.1 70.2L634.4 69.5L633.7 69.5M633.7 70.2L633.7 70.8L634.4 70.8L634.4 70.2L633.7 70.2M641.7 57.6L640.2 64.2L641.7 62.9L643.8 62.3L646.0 62.3L648.2 62.9L649.6 64.2L650.4 66.2L650.4 67.5L649.6 69.5L648.2 70.8L646.0 71.5L643.8 71.5L641.7 70.8L640.9 70.2L640.2 68.9L640.2 68.2L640.9 67.5L641.7 67.5L642.4 68.2L642.4 68.9L641.7 69.5L640.9 69.5M648.9 64.2L649.6 65.6L649.6 68.2L648.9 69.5M646.0 62.3L647.5 62.9L648.2 63.6L648.9 65.6L648.9 68.2L648.2 70.2L647.5 70.8L646.0 71.5M640.9 68.2L640.9 68.9L641.7 68.9L641.7 68.2L640.9 68.2M641.7 57.6L648.9 57.6M641.7 58.3L647.5 58.3M641.7 59.0L644.6 59.0L647.5 58.3L648.9 57.6"/></g>
<g transform="scale(1.15 1)"><path class="hb" stroke-width="1.25" d="M222.91 62.26L221.46 71.50M223.34 62.92L222.10 70.84M221.29 62.26L223.98 62.26L222.54 71.50M227.55 63.58L227.65 62.92L227.12 62.92L226.91 64.24L227.99 64.24L228.19 62.92L227.76 62.26L226.68 62.26L225.50 62.92L224.21 64.24L223.36 66.22M219.84 71.50L224.16 71.50M221.83 62.26L222.80 62.92M222.37 62.26L222.70 63.58M221.56 70.84L220.38 71.50M221.67 70.18L220.92 71.50M222.74 70.18L223.08 71.50M222.64 70.84L223.62 71.50M443.69 62.26L442.24 71.50M444.12 62.92L442.88 70.84M442.07 62.26L444.77 62.26L443.32 71.50M444.35 64.90L445.10 63.58L445.74 62.92L446.92 62.26L448.54 62.26L449.52 62.92L449.95 63.58L450.18 65.56L449.25 71.50M449.41 63.58L449.64 65.56L448.82 70.84M448.54 62.26L448.98 62.92L449.21 64.90L448.17 71.50M440.63 71.50L444.94 71.50M446.56 71.50L450.87 71.50M442.61 62.26L443.59 62.92M443.15 62.26L443.48 63.58M442.35 70.84L441.16 71.50M442.45 70.18L441.70 71.50M443.53 70.18L443.86 71.50M443.42 70.84L444.40 71.50M448.28 70.84L447.09 71.50M448.38 70.18L447.63 71.50M449.46 70.18L449.79 71.50M449.35 70.84L450.33 71.50M336.12 583.60L334.58 593.40M336.57 584.30L335.26 592.70M334.42 583.60L337.25 583.60L335.72 593.40M340.99 585.00L341.10 584.30L340.54 584.30L340.32 585.70L341.45 585.70L341.67 584.30L341.21 583.60L340.08 583.60L338.84 584.30L337.49 585.70L336.59 587.80M332.89 593.40L337.41 593.40M334.99 583.60L336.01 584.30M335.55 583.60L335.90 585.00M334.69 592.70L333.45 593.40M334.80 592.00L334.02 593.40M335.94 592.00L336.28 593.40M335.83 592.70L336.85 593.40"/></g>
<g><path class="hb" stroke-width="1.05" d="M276.3 64.1L287.9 64.1M276.3 68.0L287.9 68.0M429.0 64.1L440.6 64.1M429.0 68.0L440.6 68.0M526.7 64.1L538.3 64.1M526.7 68.0L538.3 68.0M600.9 64.1L612.5 64.1M600.9 68.0L612.5 68.0"/></g>
<g transform="scale(1.55 1)"><path class="hb" stroke-width="1.30" d="M265.17 64.24L266.12 62.92L267.00 62.26L267.80 62.26L268.52 62.92L268.84 63.58L269.01 65.56L268.71 68.20L268.00 70.84L266.19 76.12M265.64 63.58L266.52 62.92L268.12 62.92L268.84 63.58M272.20 62.26L271.57 64.24L271.01 65.56L268.48 70.18L266.89 73.48L265.79 76.12M271.80 62.26L271.17 64.24L270.61 65.56L268.48 70.18M381.33 57.64L380.05 58.30L379.10 59.62L377.99 62.26L377.36 64.24L376.65 66.88L375.79 70.84L374.78 76.12M381.33 57.64L380.45 58.30L379.50 59.62L378.39 62.26L377.76 64.24L377.05 66.88L376.19 70.84L375.18 76.12M381.33 57.64L382.13 57.64L382.85 58.30L383.17 58.96L382.94 60.94L382.39 62.26L381.91 62.92L380.64 63.58L379.04 63.58M382.13 57.64L382.77 58.96L382.54 60.94L381.99 62.26L381.51 62.92L380.64 63.58M379.04 63.58L380.56 64.24L381.21 65.56L381.45 66.88L381.22 68.86L380.67 70.18L380.19 70.84L378.92 71.50L378.12 71.50L377.39 70.84L377.07 70.18L376.90 68.20M379.04 63.58L380.16 64.24L380.81 65.56L381.05 66.88L380.82 68.86L380.27 70.18L379.79 70.84L378.92 71.50"/></g>
<g><path class="hb" stroke-width="1.30" d="M412.8 575.9L412.8 598.3M413.6 575.9L413.6 598.3M412.8 575.9L418.3 575.9M412.8 598.3L418.3 598.3M424.6 578.7L424.6 593.4M425.4 579.4L425.4 592.7M422.3 578.7L426.2 578.7L426.2 593.4M433.2 584.3L426.2 590.6M429.3 587.8L434.8 593.4M429.3 588.5L434.0 593.4M428.5 588.5L433.2 593.4M430.8 583.6L436.3 583.6M422.3 593.4L428.5 593.4M430.8 593.4L436.3 593.4M423.0 578.7L424.6 579.4M423.8 578.7L424.6 580.1M431.6 583.6L433.2 584.3M435.5 583.6L433.2 584.3M424.6 592.7L423.0 593.4M424.6 592.0L423.8 593.4M426.2 592.0L426.9 593.4M426.2 592.7L427.7 593.4M433.2 592.0L431.6 593.4M432.4 592.0L435.5 593.4M441.8 583.6L441.8 598.3M442.6 584.3L442.6 597.6M439.5 583.6L443.4 583.6L443.4 598.3M443.4 585.7L444.2 584.3L445.7 583.6L447.3 583.6L449.6 584.3L451.2 585.7L452.0 587.8L452.0 589.2L451.2 591.3L449.6 592.7L447.3 593.4L445.7 593.4L444.2 592.7L443.4 591.3M450.4 585.7L451.2 587.1L451.2 589.9L450.4 591.3M447.3 583.6L448.8 584.3L449.6 585.0L450.4 587.1L450.4 589.9L449.6 592.0L448.8 592.7L447.3 593.4M439.5 598.3L445.7 598.3M440.3 583.6L441.8 584.3M441.0 583.6L441.8 585.0M441.8 597.6L440.3 598.3M441.8 596.9L441.0 598.3M443.4 596.9L444.2 598.3M443.4 597.6L444.9 598.3M466.1 586.4L466.1 585.7L465.3 585.7L465.3 587.1L466.9 587.1L466.9 585.7L465.3 584.3L463.7 583.6L461.4 583.6L459.1 584.3L457.5 585.7L456.7 587.8L456.7 589.2L457.5 591.3L459.1 592.7L461.4 593.4L462.9 593.4L465.3 592.7L466.9 591.3M458.3 585.7L457.5 587.1L457.5 589.9L458.3 591.3M461.4 583.6L459.8 584.3L459.1 585.0L458.3 587.1L458.3 589.9L459.1 592.0L459.8 592.7L461.4 593.4M476.3 575.9L476.3 598.3M477.1 575.9L477.1 598.3M471.6 575.9L477.1 575.9M471.6 598.3L477.1 598.3"/></g>
<g transform="translate(20.20 341.80) rotate(-90) scale(1.95 1)"><path class="hb" stroke-width="1.30" d="M6.64 -9.80L3.30 -9.80L2.23 -9.10L1.37 -7.00L0.84 -4.90L0.65 -2.80L0.85 -1.40L1.12 -0.70L1.73 0.00L2.39 0.00L3.46 -0.70L4.32 -2.80L4.85 -4.90L5.04 -7.00L4.84 -8.40L4.57 -9.10L3.97 -9.80M3.30 -9.80L2.57 -9.10L1.71 -7.00L1.18 -4.90L0.92 -2.10L1.12 -0.70M2.39 0.00L3.13 -0.70L3.99 -2.80L4.52 -4.90L4.77 -7.70L4.57 -9.10M4.57 -9.10L6.57 -9.10"/></g>
<g transform="translate(26.80 323.10) rotate(-90)"><path class="hb" stroke-width="1.25" d="M6.9 -7.4L7.3 -8.6L7.3 -6.1L6.9 -7.4L6.0 -8.2L5.1 -8.6L3.7 -8.6L2.4 -8.2L1.5 -7.4L1.1 -6.6L0.6 -5.3L0.6 -3.3L1.1 -2.0L1.5 -1.2L2.4 -0.4L3.7 0.0L5.1 0.0L6.0 -0.4L6.9 -0.4L7.3 0.0L7.3 -3.3M2.0 -7.4L1.5 -6.6L1.1 -5.3L1.1 -3.3L1.5 -2.0L2.0 -1.2M3.7 -8.6L2.9 -8.2L2.0 -7.0L1.5 -5.3L1.5 -3.3L2.0 -1.6L2.9 -0.4L3.7 0.0M6.9 -2.9L6.9 -0.8M6.4 -3.3L6.4 -0.8L6.0 -0.4M5.1 -3.3L8.6 -3.3M5.5 -3.3L6.4 -2.9M6.0 -3.3L6.4 -2.5M7.7 -3.3L7.3 -2.5M8.2 -3.3L7.3 -2.9M16.6 -7.4L17.1 -8.6L17.1 -6.1L16.6 -7.4L15.7 -8.2L14.4 -8.6L13.1 -8.6L11.7 -8.2L10.8 -7.4L10.8 -6.1L11.3 -5.3L12.6 -4.5L15.3 -3.7L16.2 -3.3L16.6 -2.5L16.6 -1.2L16.2 -0.4M11.3 -6.1L11.7 -5.3L12.6 -4.9L15.3 -4.1L16.2 -3.7L16.6 -2.9M11.7 -8.2L11.3 -7.4L11.3 -6.6L11.7 -5.7L12.6 -5.3L15.3 -4.5L16.6 -3.7L17.1 -2.9L17.1 -1.6L16.6 -0.8L16.2 -0.4L14.8 0.0L13.5 0.0L12.2 -0.4L11.3 -1.2L10.8 -2.5L10.8 0.0L11.3 -1.2M20.6 -8.6L20.6 0.0M21.0 -8.2L21.0 -0.4M21.5 -8.6L21.5 0.0M19.3 -8.6L24.6 -8.6L25.9 -8.2L26.4 -7.8L26.8 -7.0L26.8 -6.1L26.4 -5.3L25.9 -4.9L24.6 -4.5L21.5 -4.5M25.9 -7.8L26.4 -7.0L26.4 -6.1L25.9 -5.3M24.6 -8.6L25.5 -8.2L25.9 -7.4L25.9 -5.7L25.5 -4.9L24.6 -4.5M23.3 -4.5L24.2 -4.1L24.6 -3.3L25.5 -0.8L25.9 0.0L26.8 0.0L27.3 -0.8L27.3 -1.6M25.5 -1.6L25.9 -0.8L26.4 -0.4L26.8 -0.4M24.2 -4.1L24.6 -3.7L25.9 -1.2L26.4 -0.8L26.8 -0.8L27.3 -1.2M19.3 0.0L22.8 0.0M19.7 -8.6L20.6 -8.2M20.2 -8.6L20.6 -7.8M21.9 -8.6L21.5 -7.8M22.4 -8.6L21.5 -8.2M20.6 -0.4L19.7 0.0M20.6 -0.8L20.2 0.0M21.5 -0.8L21.9 0.0M21.5 -0.4L22.4 0.0"/></g>
<g transform="translate(20.20 279.20) rotate(-90)"><path class="hb" stroke-width="1.30" d="M0.6 -17.5L0.6 4.9M1.4 -17.5L1.4 4.9M0.6 -17.5L6.1 -17.5M0.6 4.9L6.1 4.9"/></g>
<g transform="translate(20.20 270.00) rotate(-90)"><path class="hb" stroke-width="1.30" d="M3.0 -14.7L3.0 0.0M3.8 -14.0L3.8 -0.7M0.7 -14.7L4.5 -14.7L4.5 0.0M11.6 -9.1L4.5 -2.8M7.7 -5.6L13.1 0.0M7.7 -4.9L12.3 0.0M6.9 -4.9L11.6 0.0M9.2 -9.8L14.7 -9.8M0.7 0.0L6.9 0.0M9.2 0.0L14.7 0.0M1.4 -14.7L3.0 -14.0M2.2 -14.7L3.0 -13.3M10.0 -9.8L11.6 -9.1M13.9 -9.8L11.6 -9.1M3.0 -0.7L1.4 0.0M3.0 -1.4L2.2 0.0M4.5 -1.4L5.3 0.0M4.5 -0.7L6.1 0.0M11.6 -1.4L10.0 0.0M10.8 -1.4L13.9 0.0M19.1 -9.8L19.1 0.0M19.9 -9.1L19.9 -0.7M16.8 -9.8L20.7 -9.8L20.7 0.0M20.7 -7.0L21.4 -8.4L22.2 -9.1L23.8 -9.8L26.1 -9.8L27.7 -9.1L28.5 -8.4L29.2 -6.3L29.2 0.0M27.7 -8.4L28.5 -6.3L28.5 -0.7M26.1 -9.8L26.9 -9.1L27.7 -7.0L27.7 0.0M29.2 -7.0L30.0 -8.4L30.8 -9.1L32.4 -9.8L34.7 -9.8L36.3 -9.1L37.0 -8.4L37.8 -6.3L37.8 0.0M36.3 -8.4L37.0 -6.3L37.0 -0.7M34.7 -9.8L35.5 -9.1L36.3 -7.0L36.3 0.0M16.8 0.0L23.0 0.0M25.3 0.0L31.6 0.0M33.9 0.0L40.2 0.0M17.5 -9.8L19.1 -9.1M18.3 -9.8L19.1 -8.4M19.1 -0.7L17.5 0.0M19.1 -1.4L18.3 0.0M20.7 -1.4L21.4 0.0M20.7 -0.7L22.2 0.0M27.7 -0.7L26.1 0.0M27.7 -1.4L26.9 0.0M29.2 -1.4L30.0 0.0M29.2 -0.7L30.8 0.0M36.3 -0.7L34.7 0.0M36.3 -1.4L35.5 0.0M37.8 -1.4L38.6 0.0M37.8 -0.7L39.4 0.0"/></g>
<g transform="translate(20.20 227.50) rotate(-90)"><path class="hb" stroke-width="1.30" d="M12.5 -17.5L0.7 4.9L1.3 4.9M12.5 -17.5L13.2 -17.5L1.3 4.9"/></g>
<g transform="translate(20.20 211.30) rotate(-90)"><path class="hb" stroke-width="1.30" d="M8.5 -8.4L9.2 -9.8L9.2 -7.0L8.5 -8.4L7.7 -9.1L6.1 -9.8L3.0 -9.8L1.4 -9.1L0.6 -8.4L0.6 -7.0L1.4 -5.6L3.0 -4.9L6.9 -4.2L8.5 -3.5L9.2 -1.4M1.4 -9.1L0.6 -7.0M1.4 -6.3L3.0 -5.6L6.9 -4.9L8.5 -4.2M9.2 -3.5L8.5 -0.7M0.6 -8.4L1.4 -7.0L3.0 -6.3L6.9 -5.6L8.5 -4.9L9.2 -3.5L9.2 -1.4L8.5 -0.7L6.9 0.0L3.8 0.0L2.2 -0.7L1.4 -1.4L0.6 -2.8L0.6 0.0L1.4 -1.4"/></g>
<g transform="translate(20.20 196.70) rotate(-90)"><path class="hb" stroke-width="1.30" d="M5.3 -17.5L5.3 4.9M6.1 -17.5L6.1 4.9M0.6 -17.5L6.1 -17.5M0.6 4.9L6.1 4.9"/></g>
</svg>
</body></html>
